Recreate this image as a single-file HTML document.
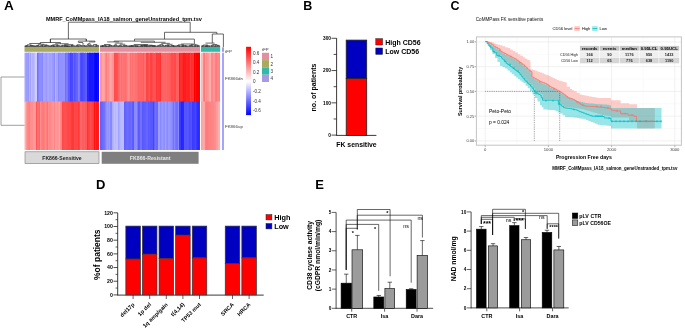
<!DOCTYPE html>
<html><head><meta charset="utf-8"><style>
html,body{margin:0;padding:0;background:#fff;}
svg{display:block;font-family:"Liberation Sans",sans-serif;will-change:transform;}
</style></head><body>
<svg width="685" height="328" viewBox="0 0 685 328">
<rect width="685" height="328" fill="#fff"/>
<text x="3.90" y="9.60" font-size="13.5" font-weight="bold" text-anchor="start" fill="#000" >A</text>
<text x="45.90" y="21.10" font-size="5.55" font-weight="bold" text-anchor="start" fill="#000" >MMRF_CoMMpass_IA18_salmon_geneUnstranded_tpm.tsv</text>
<rect x="24.50" y="52.70" width="2.20" height="49.50" fill="rgb(165,165,255)" />
<rect x="26.00" y="52.70" width="2.70" height="49.50" fill="rgb(156,156,255)" />
<rect x="28.00" y="52.70" width="1.70" height="49.50" fill="rgb(151,151,255)" />
<rect x="29.00" y="52.70" width="1.70" height="49.50" fill="rgb(180,180,255)" />
<rect x="30.00" y="52.70" width="1.70" height="49.50" fill="rgb(163,163,255)" />
<rect x="31.00" y="52.70" width="1.70" height="49.50" fill="rgb(190,190,255)" />
<rect x="32.00" y="52.70" width="2.70" height="49.50" fill="rgb(178,178,255)" />
<rect x="34.00" y="52.70" width="1.70" height="49.50" fill="rgb(188,188,255)" />
<rect x="35.00" y="52.70" width="2.70" height="49.50" fill="rgb(205,205,255)" />
<rect x="37.00" y="52.70" width="1.70" height="49.50" fill="rgb(114,114,255)" />
<rect x="38.00" y="52.70" width="1.70" height="49.50" fill="rgb(125,125,255)" />
<rect x="39.00" y="52.70" width="2.70" height="49.50" fill="rgb(141,141,255)" />
<rect x="41.00" y="52.70" width="1.70" height="49.50" fill="rgb(141,141,255)" />
<rect x="42.00" y="52.70" width="1.70" height="49.50" fill="rgb(134,134,255)" />
<rect x="43.00" y="52.70" width="1.70" height="49.50" fill="rgb(165,165,255)" />
<rect x="44.00" y="52.70" width="1.70" height="49.50" fill="rgb(164,164,255)" />
<rect x="45.00" y="52.70" width="1.70" height="49.50" fill="rgb(160,160,255)" />
<rect x="46.00" y="52.70" width="1.70" height="49.50" fill="rgb(152,152,255)" />
<rect x="47.00" y="52.70" width="1.70" height="49.50" fill="rgb(166,166,255)" />
<rect x="48.00" y="52.70" width="1.70" height="49.50" fill="rgb(168,168,255)" />
<rect x="49.00" y="52.70" width="2.70" height="49.50" fill="rgb(160,160,255)" />
<rect x="51.00" y="52.70" width="1.70" height="49.50" fill="rgb(166,166,255)" />
<rect x="52.00" y="52.70" width="2.70" height="49.50" fill="rgb(152,152,255)" />
<rect x="54.00" y="52.70" width="1.70" height="49.50" fill="rgb(139,139,255)" />
<rect x="55.00" y="52.70" width="1.70" height="49.50" fill="rgb(179,179,255)" />
<rect x="56.00" y="52.70" width="2.20" height="49.50" fill="rgb(165,165,255)" />
<rect x="57.50" y="52.70" width="1.20" height="49.50" fill="rgb(159,159,255)" />
<rect x="58.00" y="52.70" width="2.20" height="49.50" fill="rgb(137,137,255)" />
<rect x="59.50" y="52.70" width="1.20" height="49.50" fill="rgb(152,152,255)" />
<rect x="60.00" y="52.70" width="2.70" height="49.50" fill="rgb(145,145,255)" />
<rect x="62.00" y="52.70" width="1.70" height="49.50" fill="rgb(146,146,255)" />
<rect x="63.00" y="52.70" width="2.70" height="49.50" fill="rgb(148,148,255)" />
<rect x="65.00" y="52.70" width="1.70" height="49.50" fill="rgb(112,112,255)" />
<rect x="66.00" y="52.70" width="2.20" height="49.50" fill="rgb(125,125,255)" />
<rect x="67.50" y="52.70" width="1.20" height="49.50" fill="rgb(117,117,255)" />
<rect x="68.00" y="52.70" width="2.70" height="49.50" fill="rgb(92,92,255)" />
<rect x="70.00" y="52.70" width="1.70" height="49.50" fill="rgb(65,65,255)" />
<rect x="71.00" y="52.70" width="2.70" height="49.50" fill="rgb(73,73,255)" />
<rect x="73.00" y="52.70" width="1.70" height="49.50" fill="rgb(103,103,255)" />
<rect x="74.00" y="52.70" width="2.20" height="49.50" fill="rgb(85,85,255)" />
<rect x="75.50" y="52.70" width="1.20" height="49.50" fill="rgb(96,96,255)" />
<rect x="76.00" y="52.70" width="2.70" height="49.50" fill="rgb(100,100,255)" />
<rect x="78.00" y="52.70" width="2.20" height="49.50" fill="rgb(127,127,255)" />
<rect x="79.50" y="52.70" width="1.20" height="49.50" fill="rgb(117,117,255)" />
<rect x="80.00" y="52.70" width="1.70" height="49.50" fill="rgb(79,79,255)" />
<rect x="81.00" y="52.70" width="1.70" height="49.50" fill="rgb(71,71,255)" />
<rect x="82.00" y="52.70" width="1.70" height="49.50" fill="rgb(72,72,255)" />
<rect x="83.00" y="52.70" width="2.70" height="49.50" fill="rgb(82,82,255)" />
<rect x="85.00" y="52.70" width="2.70" height="49.50" fill="rgb(92,92,255)" />
<rect x="87.00" y="52.70" width="2.70" height="49.50" fill="rgb(36,36,255)" />
<rect x="89.00" y="52.70" width="2.20" height="49.50" fill="rgb(21,21,255)" />
<rect x="90.50" y="52.70" width="2.70" height="49.50" fill="rgb(22,22,255)" />
<rect x="92.50" y="52.70" width="2.20" height="49.50" fill="rgb(27,27,255)" />
<rect x="94.00" y="52.70" width="2.20" height="49.50" fill="rgb(10,10,255)" />
<rect x="95.50" y="52.70" width="2.20" height="49.50" fill="rgb(1,1,255)" />
<rect x="97.00" y="52.70" width="1.70" height="49.50" fill="rgb(13,13,255)" />
<rect x="98.00" y="52.70" width="1.00" height="49.50" fill="rgb(8,8,255)" />
<rect x="24.50" y="101.60" width="1.70" height="48.40" fill="rgb(255,181,181)" />
<rect x="25.50" y="101.60" width="1.20" height="48.40" fill="rgb(255,173,173)" />
<rect x="26.00" y="101.60" width="1.70" height="48.40" fill="rgb(255,151,151)" />
<rect x="27.00" y="101.60" width="2.20" height="48.40" fill="rgb(255,137,137)" />
<rect x="28.50" y="101.60" width="2.20" height="48.40" fill="rgb(255,126,126)" />
<rect x="30.00" y="101.60" width="1.70" height="48.40" fill="rgb(255,142,142)" />
<rect x="31.00" y="101.60" width="2.70" height="48.40" fill="rgb(255,143,143)" />
<rect x="33.00" y="101.60" width="2.70" height="48.40" fill="rgb(255,152,152)" />
<rect x="35.00" y="101.60" width="1.70" height="48.40" fill="rgb(255,154,154)" />
<rect x="36.00" y="101.60" width="1.70" height="48.40" fill="rgb(255,87,87)" />
<rect x="37.00" y="101.60" width="2.70" height="48.40" fill="rgb(255,112,112)" />
<rect x="39.00" y="101.60" width="1.70" height="48.40" fill="rgb(255,99,99)" />
<rect x="40.00" y="101.60" width="1.70" height="48.40" fill="rgb(255,143,143)" />
<rect x="41.00" y="101.60" width="1.70" height="48.40" fill="rgb(255,126,126)" />
<rect x="42.00" y="101.60" width="2.20" height="48.40" fill="rgb(255,124,124)" />
<rect x="43.50" y="101.60" width="1.70" height="48.40" fill="rgb(255,116,116)" />
<rect x="44.50" y="101.60" width="2.70" height="48.40" fill="rgb(255,138,138)" />
<rect x="46.50" y="101.60" width="2.20" height="48.40" fill="rgb(255,114,114)" />
<rect x="48.00" y="101.60" width="2.20" height="48.40" fill="rgb(255,141,141)" />
<rect x="49.50" y="101.60" width="1.70" height="48.40" fill="rgb(255,130,130)" />
<rect x="50.50" y="101.60" width="2.70" height="48.40" fill="rgb(255,141,141)" />
<rect x="52.50" y="101.60" width="2.20" height="48.40" fill="rgb(255,153,153)" />
<rect x="54.00" y="101.60" width="1.70" height="48.40" fill="rgb(255,133,133)" />
<rect x="55.00" y="101.60" width="2.20" height="48.40" fill="rgb(255,154,154)" />
<rect x="56.50" y="101.60" width="1.70" height="48.40" fill="rgb(255,153,153)" />
<rect x="57.50" y="101.60" width="1.70" height="48.40" fill="rgb(255,139,139)" />
<rect x="58.50" y="101.60" width="2.20" height="48.40" fill="rgb(255,164,164)" />
<rect x="60.00" y="101.60" width="1.70" height="48.40" fill="rgb(255,137,137)" />
<rect x="61.00" y="101.60" width="1.70" height="48.40" fill="rgb(255,131,131)" />
<rect x="62.00" y="101.60" width="1.70" height="48.40" fill="rgb(255,73,73)" />
<rect x="63.00" y="101.60" width="2.20" height="48.40" fill="rgb(255,78,78)" />
<rect x="64.50" y="101.60" width="1.70" height="48.40" fill="rgb(255,83,83)" />
<rect x="65.50" y="101.60" width="1.70" height="48.40" fill="rgb(255,78,78)" />
<rect x="66.50" y="101.60" width="2.20" height="48.40" fill="rgb(255,75,75)" />
<rect x="68.00" y="101.60" width="1.70" height="48.40" fill="rgb(255,70,70)" />
<rect x="69.00" y="101.60" width="2.70" height="48.40" fill="rgb(255,72,72)" />
<rect x="71.00" y="101.60" width="1.70" height="48.40" fill="rgb(255,60,60)" />
<rect x="72.00" y="101.60" width="1.70" height="48.40" fill="rgb(255,55,55)" />
<rect x="73.00" y="101.60" width="1.70" height="48.40" fill="rgb(255,56,56)" />
<rect x="74.00" y="101.60" width="2.20" height="48.40" fill="rgb(255,72,72)" />
<rect x="75.50" y="101.60" width="1.70" height="48.40" fill="rgb(255,66,66)" />
<rect x="76.50" y="101.60" width="2.20" height="48.40" fill="rgb(255,73,73)" />
<rect x="78.00" y="101.60" width="2.20" height="48.40" fill="rgb(255,57,57)" />
<rect x="79.50" y="101.60" width="1.20" height="48.40" fill="rgb(255,84,84)" />
<rect x="80.00" y="101.60" width="1.70" height="48.40" fill="rgb(255,105,105)" />
<rect x="81.00" y="101.60" width="1.70" height="48.40" fill="rgb(255,102,102)" />
<rect x="82.00" y="101.60" width="2.70" height="48.40" fill="rgb(255,93,93)" />
<rect x="84.00" y="101.60" width="1.70" height="48.40" fill="rgb(255,98,98)" />
<rect x="85.00" y="101.60" width="2.20" height="48.40" fill="rgb(255,88,88)" />
<rect x="86.50" y="101.60" width="1.20" height="48.40" fill="rgb(255,87,87)" />
<rect x="87.00" y="101.60" width="1.70" height="48.40" fill="rgb(255,51,51)" />
<rect x="88.00" y="101.60" width="1.70" height="48.40" fill="rgb(255,64,64)" />
<rect x="89.00" y="101.60" width="1.70" height="48.40" fill="rgb(255,66,66)" />
<rect x="90.00" y="101.60" width="2.20" height="48.40" fill="rgb(255,76,76)" />
<rect x="91.50" y="101.60" width="2.70" height="48.40" fill="rgb(255,65,65)" />
<rect x="93.50" y="101.60" width="1.20" height="48.40" fill="rgb(255,57,57)" />
<rect x="94.00" y="101.60" width="1.70" height="48.40" fill="rgb(255,18,18)" />
<rect x="95.00" y="101.60" width="1.70" height="48.40" fill="rgb(255,44,44)" />
<rect x="96.00" y="101.60" width="2.70" height="48.40" fill="rgb(255,24,24)" />
<rect x="98.00" y="101.60" width="1.00" height="48.40" fill="rgb(255,30,30)" />
<rect x="100.00" y="52.70" width="2.70" height="49.50" fill="rgb(255,148,148)" />
<rect x="102.00" y="52.70" width="2.20" height="49.50" fill="rgb(255,164,164)" />
<rect x="103.50" y="52.70" width="1.70" height="49.50" fill="rgb(255,168,168)" />
<rect x="104.50" y="52.70" width="1.20" height="49.50" fill="rgb(255,152,152)" />
<rect x="105.00" y="52.70" width="1.70" height="49.50" fill="rgb(255,137,137)" />
<rect x="106.00" y="52.70" width="1.70" height="49.50" fill="rgb(255,125,125)" />
<rect x="107.00" y="52.70" width="1.70" height="49.50" fill="rgb(255,150,150)" />
<rect x="108.00" y="52.70" width="1.70" height="49.50" fill="rgb(255,141,141)" />
<rect x="109.00" y="52.70" width="1.70" height="49.50" fill="rgb(255,153,153)" />
<rect x="110.00" y="52.70" width="2.20" height="49.50" fill="rgb(255,168,168)" />
<rect x="111.50" y="52.70" width="2.70" height="49.50" fill="rgb(255,150,150)" />
<rect x="113.50" y="52.70" width="1.20" height="49.50" fill="rgb(255,148,148)" />
<rect x="114.00" y="52.70" width="2.20" height="49.50" fill="rgb(255,77,77)" />
<rect x="115.50" y="52.70" width="2.70" height="49.50" fill="rgb(255,79,79)" />
<rect x="117.50" y="52.70" width="1.20" height="49.50" fill="rgb(255,88,88)" />
<rect x="118.00" y="52.70" width="1.70" height="49.50" fill="rgb(255,101,101)" />
<rect x="119.00" y="52.70" width="1.70" height="49.50" fill="rgb(255,109,109)" />
<rect x="120.00" y="52.70" width="1.70" height="49.50" fill="rgb(255,122,122)" />
<rect x="121.00" y="52.70" width="1.70" height="49.50" fill="rgb(255,109,109)" />
<rect x="122.00" y="52.70" width="1.70" height="49.50" fill="rgb(255,118,118)" />
<rect x="123.00" y="52.70" width="2.20" height="49.50" fill="rgb(255,114,114)" />
<rect x="124.50" y="52.70" width="2.20" height="49.50" fill="rgb(255,111,111)" />
<rect x="126.00" y="52.70" width="1.70" height="49.50" fill="rgb(255,116,116)" />
<rect x="127.00" y="52.70" width="1.70" height="49.50" fill="rgb(255,135,135)" />
<rect x="128.00" y="52.70" width="2.20" height="49.50" fill="rgb(255,142,142)" />
<rect x="129.50" y="52.70" width="1.20" height="49.50" fill="rgb(255,127,127)" />
<rect x="130.00" y="52.70" width="1.70" height="49.50" fill="rgb(255,112,112)" />
<rect x="131.00" y="52.70" width="1.70" height="49.50" fill="rgb(255,122,122)" />
<rect x="132.00" y="52.70" width="1.70" height="49.50" fill="rgb(255,114,114)" />
<rect x="133.00" y="52.70" width="2.70" height="49.50" fill="rgb(255,120,120)" />
<rect x="135.00" y="52.70" width="2.70" height="49.50" fill="rgb(255,112,112)" />
<rect x="137.00" y="52.70" width="1.70" height="49.50" fill="rgb(255,106,106)" />
<rect x="138.00" y="52.70" width="2.20" height="49.50" fill="rgb(255,99,99)" />
<rect x="139.50" y="52.70" width="1.20" height="49.50" fill="rgb(255,102,102)" />
<rect x="140.00" y="52.70" width="1.70" height="49.50" fill="rgb(255,99,99)" />
<rect x="141.00" y="52.70" width="2.70" height="49.50" fill="rgb(255,99,99)" />
<rect x="143.00" y="52.70" width="1.70" height="49.50" fill="rgb(255,92,92)" />
<rect x="144.00" y="52.70" width="2.70" height="49.50" fill="rgb(255,110,110)" />
<rect x="146.00" y="52.70" width="2.20" height="49.50" fill="rgb(255,70,70)" />
<rect x="147.50" y="52.70" width="1.70" height="49.50" fill="rgb(255,66,66)" />
<rect x="148.50" y="52.70" width="2.20" height="49.50" fill="rgb(255,90,90)" />
<rect x="150.00" y="52.70" width="1.70" height="49.50" fill="rgb(255,65,65)" />
<rect x="151.00" y="52.70" width="1.70" height="49.50" fill="rgb(255,64,64)" />
<rect x="152.00" y="52.70" width="1.70" height="49.50" fill="rgb(255,75,75)" />
<rect x="153.00" y="52.70" width="2.70" height="49.50" fill="rgb(255,82,82)" />
<rect x="155.00" y="52.70" width="1.70" height="49.50" fill="rgb(255,82,82)" />
<rect x="156.00" y="52.70" width="1.70" height="49.50" fill="rgb(255,56,56)" />
<rect x="157.00" y="52.70" width="2.70" height="49.50" fill="rgb(255,61,61)" />
<rect x="159.00" y="52.70" width="1.70" height="49.50" fill="rgb(255,60,60)" />
<rect x="160.00" y="52.70" width="1.70" height="49.50" fill="rgb(255,49,49)" />
<rect x="161.00" y="52.70" width="1.70" height="49.50" fill="rgb(255,102,102)" />
<rect x="162.00" y="52.70" width="2.70" height="49.50" fill="rgb(255,99,99)" />
<rect x="164.00" y="52.70" width="1.70" height="49.50" fill="rgb(255,100,100)" />
<rect x="165.00" y="52.70" width="2.20" height="49.50" fill="rgb(255,97,97)" />
<rect x="166.50" y="52.70" width="1.70" height="49.50" fill="rgb(255,109,109)" />
<rect x="167.50" y="52.70" width="1.70" height="49.50" fill="rgb(255,82,82)" />
<rect x="168.50" y="52.70" width="1.20" height="49.50" fill="rgb(255,110,110)" />
<rect x="169.00" y="52.70" width="2.20" height="49.50" fill="rgb(255,93,93)" />
<rect x="170.50" y="52.70" width="1.70" height="49.50" fill="rgb(255,86,86)" />
<rect x="171.50" y="52.70" width="1.70" height="49.50" fill="rgb(255,69,69)" />
<rect x="172.50" y="52.70" width="2.20" height="49.50" fill="rgb(255,82,82)" />
<rect x="174.00" y="52.70" width="2.70" height="49.50" fill="rgb(255,73,73)" />
<rect x="176.00" y="52.70" width="1.70" height="49.50" fill="rgb(255,96,96)" />
<rect x="177.00" y="52.70" width="1.70" height="49.50" fill="rgb(255,92,92)" />
<rect x="178.00" y="52.70" width="1.70" height="49.50" fill="rgb(255,96,96)" />
<rect x="179.00" y="52.70" width="1.70" height="49.50" fill="rgb(255,29,29)" />
<rect x="180.00" y="52.70" width="2.20" height="49.50" fill="rgb(255,46,46)" />
<rect x="181.50" y="52.70" width="1.70" height="49.50" fill="rgb(255,46,46)" />
<rect x="182.50" y="52.70" width="1.70" height="49.50" fill="rgb(255,35,35)" />
<rect x="183.50" y="52.70" width="1.20" height="49.50" fill="rgb(255,18,18)" />
<rect x="184.00" y="52.70" width="2.70" height="49.50" fill="rgb(255,28,28)" />
<rect x="186.00" y="52.70" width="2.20" height="49.50" fill="rgb(255,37,37)" />
<rect x="187.50" y="52.70" width="1.70" height="49.50" fill="rgb(255,40,40)" />
<rect x="188.50" y="52.70" width="1.70" height="49.50" fill="rgb(255,27,27)" />
<rect x="189.50" y="52.70" width="1.20" height="49.50" fill="rgb(255,48,48)" />
<rect x="190.00" y="52.70" width="1.70" height="49.50" fill="rgb(255,58,58)" />
<rect x="191.00" y="52.70" width="2.20" height="49.50" fill="rgb(255,45,45)" />
<rect x="192.50" y="52.70" width="1.70" height="49.50" fill="rgb(255,55,55)" />
<rect x="193.50" y="52.70" width="1.20" height="49.50" fill="rgb(255,55,55)" />
<rect x="194.00" y="52.70" width="1.70" height="49.50" fill="rgb(255,0,0)" />
<rect x="195.00" y="52.70" width="1.70" height="49.50" fill="rgb(255,15,15)" />
<rect x="196.00" y="52.70" width="1.70" height="49.50" fill="rgb(255,0,0)" />
<rect x="197.00" y="52.70" width="1.70" height="49.50" fill="rgb(255,0,0)" />
<rect x="198.00" y="52.70" width="1.70" height="49.50" fill="rgb(255,0,0)" />
<rect x="199.00" y="52.70" width="1.00" height="49.50" fill="rgb(255,0,0)" />
<rect x="100.00" y="101.60" width="2.70" height="48.40" fill="rgb(98,98,255)" />
<rect x="102.00" y="101.60" width="2.20" height="48.40" fill="rgb(106,106,255)" />
<rect x="103.50" y="101.60" width="1.70" height="48.40" fill="rgb(117,117,255)" />
<rect x="104.50" y="101.60" width="1.20" height="48.40" fill="rgb(115,115,255)" />
<rect x="105.00" y="101.60" width="2.20" height="48.40" fill="rgb(131,131,255)" />
<rect x="106.50" y="101.60" width="1.70" height="48.40" fill="rgb(160,160,255)" />
<rect x="107.50" y="101.60" width="2.20" height="48.40" fill="rgb(147,147,255)" />
<rect x="109.00" y="101.60" width="1.70" height="48.40" fill="rgb(158,158,255)" />
<rect x="110.00" y="101.60" width="2.70" height="48.40" fill="rgb(134,134,255)" />
<rect x="112.00" y="101.60" width="2.20" height="48.40" fill="rgb(173,173,255)" />
<rect x="113.50" y="101.60" width="2.20" height="48.40" fill="rgb(190,190,255)" />
<rect x="115.00" y="101.60" width="1.70" height="48.40" fill="rgb(186,186,255)" />
<rect x="116.00" y="101.60" width="2.70" height="48.40" fill="rgb(191,191,255)" />
<rect x="118.00" y="101.60" width="2.20" height="48.40" fill="rgb(162,162,255)" />
<rect x="119.50" y="101.60" width="2.20" height="48.40" fill="rgb(184,184,255)" />
<rect x="121.00" y="101.60" width="2.20" height="48.40" fill="rgb(185,185,255)" />
<rect x="122.50" y="101.60" width="1.70" height="48.40" fill="rgb(191,191,255)" />
<rect x="123.50" y="101.60" width="1.20" height="48.40" fill="rgb(189,189,255)" />
<rect x="124.00" y="101.60" width="2.20" height="48.40" fill="rgb(97,97,255)" />
<rect x="125.50" y="101.60" width="1.70" height="48.40" fill="rgb(105,105,255)" />
<rect x="126.50" y="101.60" width="1.70" height="48.40" fill="rgb(109,109,255)" />
<rect x="127.50" y="101.60" width="1.70" height="48.40" fill="rgb(108,108,255)" />
<rect x="128.50" y="101.60" width="1.70" height="48.40" fill="rgb(100,100,255)" />
<rect x="129.50" y="101.60" width="2.20" height="48.40" fill="rgb(103,103,255)" />
<rect x="131.00" y="101.60" width="1.70" height="48.40" fill="rgb(110,110,255)" />
<rect x="132.00" y="101.60" width="1.70" height="48.40" fill="rgb(92,92,255)" />
<rect x="133.00" y="101.60" width="1.70" height="48.40" fill="rgb(89,89,255)" />
<rect x="134.00" y="101.60" width="2.70" height="48.40" fill="rgb(138,138,255)" />
<rect x="136.00" y="101.60" width="1.70" height="48.40" fill="rgb(141,141,255)" />
<rect x="137.00" y="101.60" width="1.70" height="48.40" fill="rgb(120,120,255)" />
<rect x="138.00" y="101.60" width="1.70" height="48.40" fill="rgb(89,89,255)" />
<rect x="139.00" y="101.60" width="1.70" height="48.40" fill="rgb(92,92,255)" />
<rect x="140.00" y="101.60" width="1.70" height="48.40" fill="rgb(115,115,255)" />
<rect x="141.00" y="101.60" width="1.70" height="48.40" fill="rgb(113,113,255)" />
<rect x="142.00" y="101.60" width="2.20" height="48.40" fill="rgb(88,88,255)" />
<rect x="143.50" y="101.60" width="2.70" height="48.40" fill="rgb(92,92,255)" />
<rect x="145.50" y="101.60" width="1.70" height="48.40" fill="rgb(98,98,255)" />
<rect x="146.50" y="101.60" width="1.70" height="48.40" fill="rgb(102,102,255)" />
<rect x="147.50" y="101.60" width="1.20" height="48.40" fill="rgb(103,103,255)" />
<rect x="148.00" y="101.60" width="1.70" height="48.40" fill="rgb(89,89,255)" />
<rect x="149.00" y="101.60" width="1.70" height="48.40" fill="rgb(92,92,255)" />
<rect x="150.00" y="101.60" width="1.70" height="48.40" fill="rgb(89,89,255)" />
<rect x="151.00" y="101.60" width="2.70" height="48.40" fill="rgb(87,87,255)" />
<rect x="153.00" y="101.60" width="1.70" height="48.40" fill="rgb(68,68,255)" />
<rect x="154.00" y="101.60" width="1.70" height="48.40" fill="rgb(98,98,255)" />
<rect x="155.00" y="101.60" width="1.70" height="48.40" fill="rgb(113,113,255)" />
<rect x="156.00" y="101.60" width="2.70" height="48.40" fill="rgb(105,105,255)" />
<rect x="158.00" y="101.60" width="2.70" height="48.40" fill="rgb(158,158,255)" />
<rect x="160.00" y="101.60" width="2.20" height="48.40" fill="rgb(137,137,255)" />
<rect x="161.50" y="101.60" width="1.70" height="48.40" fill="rgb(158,158,255)" />
<rect x="162.50" y="101.60" width="1.70" height="48.40" fill="rgb(150,150,255)" />
<rect x="163.50" y="101.60" width="2.20" height="48.40" fill="rgb(142,142,255)" />
<rect x="165.00" y="101.60" width="1.70" height="48.40" fill="rgb(160,160,255)" />
<rect x="166.00" y="101.60" width="1.70" height="48.40" fill="rgb(146,146,255)" />
<rect x="167.00" y="101.60" width="1.70" height="48.40" fill="rgb(139,139,255)" />
<rect x="168.00" y="101.60" width="2.70" height="48.40" fill="rgb(152,152,255)" />
<rect x="170.00" y="101.60" width="2.20" height="48.40" fill="rgb(146,146,255)" />
<rect x="171.50" y="101.60" width="1.20" height="48.40" fill="rgb(137,137,255)" />
<rect x="172.00" y="101.60" width="1.70" height="48.40" fill="rgb(133,133,255)" />
<rect x="173.00" y="101.60" width="1.70" height="48.40" fill="rgb(114,114,255)" />
<rect x="174.00" y="101.60" width="1.70" height="48.40" fill="rgb(134,134,255)" />
<rect x="175.00" y="101.60" width="1.70" height="48.40" fill="rgb(118,118,255)" />
<rect x="176.00" y="101.60" width="2.70" height="48.40" fill="rgb(112,112,255)" />
<rect x="178.00" y="101.60" width="1.70" height="48.40" fill="rgb(136,136,255)" />
<rect x="179.00" y="101.60" width="1.70" height="48.40" fill="rgb(61,61,255)" />
<rect x="180.00" y="101.60" width="1.70" height="48.40" fill="rgb(59,59,255)" />
<rect x="181.00" y="101.60" width="2.20" height="48.40" fill="rgb(35,35,255)" />
<rect x="182.50" y="101.60" width="1.70" height="48.40" fill="rgb(45,45,255)" />
<rect x="183.50" y="101.60" width="1.20" height="48.40" fill="rgb(37,37,255)" />
<rect x="184.00" y="101.60" width="2.20" height="48.40" fill="rgb(87,87,255)" />
<rect x="185.50" y="101.60" width="2.70" height="48.40" fill="rgb(82,82,255)" />
<rect x="187.50" y="101.60" width="1.70" height="48.40" fill="rgb(94,94,255)" />
<rect x="188.50" y="101.60" width="2.70" height="48.40" fill="rgb(73,73,255)" />
<rect x="190.50" y="101.60" width="2.20" height="48.40" fill="rgb(85,85,255)" />
<rect x="192.00" y="101.60" width="1.70" height="48.40" fill="rgb(59,59,255)" />
<rect x="193.00" y="101.60" width="2.70" height="48.40" fill="rgb(62,62,255)" />
<rect x="195.00" y="101.60" width="2.20" height="48.40" fill="rgb(71,71,255)" />
<rect x="196.50" y="101.60" width="2.20" height="48.40" fill="rgb(46,46,255)" />
<rect x="198.00" y="101.60" width="1.70" height="48.40" fill="rgb(43,43,255)" />
<rect x="199.00" y="101.60" width="1.00" height="48.40" fill="rgb(50,50,255)" />
<rect x="201.00" y="52.70" width="2.20" height="49.50" fill="rgb(255,184,184)" />
<rect x="202.50" y="52.70" width="1.20" height="49.50" fill="rgb(255,179,179)" />
<rect x="203.00" y="52.70" width="1.70" height="49.50" fill="rgb(255,132,132)" />
<rect x="204.00" y="52.70" width="1.70" height="49.50" fill="rgb(255,120,120)" />
<rect x="205.00" y="52.70" width="1.70" height="49.50" fill="rgb(255,160,160)" />
<rect x="206.00" y="52.70" width="1.70" height="49.50" fill="rgb(255,143,143)" />
<rect x="207.00" y="52.70" width="2.20" height="49.50" fill="rgb(255,149,149)" />
<rect x="208.50" y="52.70" width="1.20" height="49.50" fill="rgb(255,161,161)" />
<rect x="209.00" y="52.70" width="2.20" height="49.50" fill="rgb(255,170,170)" />
<rect x="210.50" y="52.70" width="1.20" height="49.50" fill="rgb(255,178,178)" />
<rect x="211.00" y="52.70" width="2.20" height="49.50" fill="rgb(255,137,137)" />
<rect x="212.50" y="52.70" width="1.20" height="49.50" fill="rgb(255,134,134)" />
<rect x="213.00" y="52.70" width="2.70" height="49.50" fill="rgb(255,148,148)" />
<rect x="215.00" y="52.70" width="1.70" height="49.50" fill="rgb(255,128,128)" />
<rect x="216.00" y="52.70" width="1.70" height="49.50" fill="rgb(255,122,122)" />
<rect x="217.00" y="52.70" width="2.70" height="49.50" fill="rgb(255,137,137)" />
<rect x="219.00" y="52.70" width="1.00" height="49.50" fill="rgb(255,131,131)" />
<rect x="201.00" y="101.60" width="2.20" height="48.40" fill="rgb(255,161,161)" />
<rect x="202.50" y="101.60" width="1.70" height="48.40" fill="rgb(255,171,171)" />
<rect x="203.50" y="101.60" width="2.20" height="48.40" fill="rgb(255,165,165)" />
<rect x="205.00" y="101.60" width="2.20" height="48.40" fill="rgb(255,127,127)" />
<rect x="206.50" y="101.60" width="2.20" height="48.40" fill="rgb(255,123,123)" />
<rect x="208.00" y="101.60" width="1.70" height="48.40" fill="rgb(255,126,126)" />
<rect x="209.00" y="101.60" width="2.70" height="48.40" fill="rgb(255,131,131)" />
<rect x="211.00" y="101.60" width="1.70" height="48.40" fill="rgb(255,133,133)" />
<rect x="212.00" y="101.60" width="2.70" height="48.40" fill="rgb(255,134,134)" />
<rect x="214.00" y="101.60" width="2.70" height="48.40" fill="rgb(255,141,141)" />
<rect x="216.00" y="101.60" width="2.70" height="48.40" fill="rgb(255,155,155)" />
<rect x="218.00" y="101.60" width="1.70" height="48.40" fill="rgb(255,176,176)" />
<rect x="219.00" y="101.60" width="1.00" height="48.40" fill="rgb(255,173,173)" />
<rect x="222.00" y="52.70" width="2.00" height="97.30" fill="rgb(165,165,255)" />
<rect x="24.50" y="47.00" width="74.50" height="4.80" fill="#a9a95f" />
<rect x="100.00" y="47.00" width="100.00" height="4.80" fill="#e0909e" />
<rect x="201.00" y="47.00" width="19.20" height="4.80" fill="#36b8a8" />
<rect x="222.00" y="47.30" width="2.00" height="4.50" fill="#a79ae0" />
<polyline points="24.50,77.00 1.00,77.00 1.00,125.30 24.50,125.30" fill="none" stroke="#888" stroke-width="0.8" />
<line x1="68.40" y1="22.20" x2="190.20" y2="22.20" stroke="#2a2a2a" stroke-width="0.7" />
<line x1="68.40" y1="22.20" x2="68.40" y2="39.00" stroke="#2a2a2a" stroke-width="0.7" />
<line x1="50.40" y1="39.00" x2="86.30" y2="39.00" stroke="#2a2a2a" stroke-width="0.7" />
<line x1="50.40" y1="39.00" x2="50.40" y2="42.70" stroke="#2a2a2a" stroke-width="0.7" />
<line x1="86.30" y1="39.00" x2="86.30" y2="41.10" stroke="#2a2a2a" stroke-width="0.7" />
<line x1="190.20" y1="22.20" x2="190.20" y2="32.30" stroke="#2a2a2a" stroke-width="0.7" />
<line x1="164.50" y1="32.30" x2="216.80" y2="32.30" stroke="#2a2a2a" stroke-width="0.7" />
<line x1="164.50" y1="32.30" x2="164.50" y2="39.10" stroke="#2a2a2a" stroke-width="0.7" />
<line x1="134.50" y1="39.10" x2="194.40" y2="39.10" stroke="#2a2a2a" stroke-width="0.7" />
<line x1="216.80" y1="32.30" x2="216.80" y2="34.00" stroke="#2a2a2a" stroke-width="0.7" />
<line x1="212.30" y1="34.00" x2="223.40" y2="34.00" stroke="#2a2a2a" stroke-width="0.7" />
<line x1="223.40" y1="34.00" x2="223.40" y2="47.00" stroke="#2a2a2a" stroke-width="0.7" />
<line x1="50.40" y1="39.00" x2="50.40" y2="42.50" stroke="#2a2a2a" stroke-width="0.7" />
<line x1="40.30" y1="42.50" x2="60.50" y2="42.50" stroke="#2a2a2a" stroke-width="0.7" />
<line x1="24.93" y1="46.10" x2="24.93" y2="46.50" stroke="#2a2a2a" stroke-width="0.7" />
<line x1="25.59" y1="46.10" x2="25.59" y2="46.50" stroke="#2a2a2a" stroke-width="0.7" />
<line x1="24.93" y1="46.10" x2="25.59" y2="46.10" stroke="#2a2a2a" stroke-width="0.7" />
<line x1="26.23" y1="46.10" x2="26.23" y2="46.50" stroke="#2a2a2a" stroke-width="0.7" />
<line x1="26.98" y1="46.10" x2="26.98" y2="46.50" stroke="#2a2a2a" stroke-width="0.7" />
<line x1="26.23" y1="46.10" x2="26.98" y2="46.10" stroke="#2a2a2a" stroke-width="0.7" />
<line x1="25.26" y1="46.01" x2="26.61" y2="46.01" stroke="#2a2a2a" stroke-width="0.7" />
<line x1="27.71" y1="46.10" x2="27.71" y2="46.50" stroke="#2a2a2a" stroke-width="0.7" />
<line x1="28.45" y1="46.10" x2="28.45" y2="46.50" stroke="#2a2a2a" stroke-width="0.7" />
<line x1="27.71" y1="46.10" x2="28.45" y2="46.10" stroke="#2a2a2a" stroke-width="0.7" />
<line x1="25.93" y1="45.69" x2="28.08" y2="45.69" stroke="#2a2a2a" stroke-width="0.7" />
<line x1="29.50" y1="46.07" x2="29.50" y2="46.50" stroke="#2a2a2a" stroke-width="0.7" />
<line x1="30.61" y1="46.07" x2="30.61" y2="46.50" stroke="#2a2a2a" stroke-width="0.7" />
<line x1="29.50" y1="46.07" x2="30.61" y2="46.07" stroke="#2a2a2a" stroke-width="0.7" />
<line x1="31.42" y1="46.10" x2="31.42" y2="46.50" stroke="#2a2a2a" stroke-width="0.7" />
<line x1="32.22" y1="46.10" x2="32.22" y2="46.50" stroke="#2a2a2a" stroke-width="0.7" />
<line x1="31.42" y1="46.10" x2="32.22" y2="46.10" stroke="#2a2a2a" stroke-width="0.7" />
<line x1="33.30" y1="46.10" x2="33.30" y2="46.50" stroke="#2a2a2a" stroke-width="0.7" />
<line x1="34.33" y1="46.10" x2="34.33" y2="46.50" stroke="#2a2a2a" stroke-width="0.7" />
<line x1="34.99" y1="46.10" x2="34.99" y2="46.50" stroke="#2a2a2a" stroke-width="0.7" />
<line x1="34.33" y1="46.10" x2="34.99" y2="46.10" stroke="#2a2a2a" stroke-width="0.7" />
<line x1="33.30" y1="46.10" x2="34.66" y2="46.10" stroke="#2a2a2a" stroke-width="0.7" />
<line x1="31.82" y1="45.88" x2="33.98" y2="45.88" stroke="#2a2a2a" stroke-width="0.7" />
<line x1="30.05" y1="45.55" x2="32.90" y2="45.55" stroke="#2a2a2a" stroke-width="0.7" />
<line x1="27.01" y1="44.84" x2="31.48" y2="44.84" stroke="#2a2a2a" stroke-width="0.7" />
<line x1="35.42" y1="46.10" x2="35.42" y2="46.50" stroke="#2a2a2a" stroke-width="0.7" />
<line x1="36.07" y1="46.10" x2="36.07" y2="46.50" stroke="#2a2a2a" stroke-width="0.7" />
<line x1="35.42" y1="46.10" x2="36.07" y2="46.10" stroke="#2a2a2a" stroke-width="0.7" />
<line x1="36.98" y1="46.10" x2="36.98" y2="46.50" stroke="#2a2a2a" stroke-width="0.7" />
<line x1="37.66" y1="46.10" x2="37.66" y2="46.50" stroke="#2a2a2a" stroke-width="0.7" />
<line x1="36.98" y1="46.10" x2="37.66" y2="46.10" stroke="#2a2a2a" stroke-width="0.7" />
<line x1="35.74" y1="45.97" x2="37.32" y2="45.97" stroke="#2a2a2a" stroke-width="0.7" />
<line x1="38.50" y1="46.10" x2="38.50" y2="46.50" stroke="#2a2a2a" stroke-width="0.7" />
<line x1="39.45" y1="46.10" x2="39.45" y2="46.50" stroke="#2a2a2a" stroke-width="0.7" />
<line x1="38.50" y1="46.10" x2="39.45" y2="46.10" stroke="#2a2a2a" stroke-width="0.7" />
<line x1="36.53" y1="45.53" x2="38.97" y2="45.53" stroke="#2a2a2a" stroke-width="0.7" />
<line x1="40.21" y1="46.10" x2="40.21" y2="46.50" stroke="#2a2a2a" stroke-width="0.7" />
<line x1="40.95" y1="46.10" x2="40.95" y2="46.50" stroke="#2a2a2a" stroke-width="0.7" />
<line x1="40.21" y1="46.10" x2="40.95" y2="46.10" stroke="#2a2a2a" stroke-width="0.7" />
<line x1="41.73" y1="46.10" x2="41.73" y2="46.50" stroke="#2a2a2a" stroke-width="0.7" />
<line x1="42.49" y1="46.10" x2="42.49" y2="46.50" stroke="#2a2a2a" stroke-width="0.7" />
<line x1="41.73" y1="46.10" x2="42.49" y2="46.10" stroke="#2a2a2a" stroke-width="0.7" />
<line x1="43.33" y1="46.03" x2="43.33" y2="46.50" stroke="#2a2a2a" stroke-width="0.7" />
<line x1="42.11" y1="46.03" x2="43.33" y2="46.03" stroke="#2a2a2a" stroke-width="0.7" />
<line x1="40.58" y1="45.60" x2="42.72" y2="45.60" stroke="#2a2a2a" stroke-width="0.7" />
<line x1="44.14" y1="46.10" x2="44.14" y2="46.50" stroke="#2a2a2a" stroke-width="0.7" />
<line x1="44.79" y1="46.10" x2="44.79" y2="46.50" stroke="#2a2a2a" stroke-width="0.7" />
<line x1="44.14" y1="46.10" x2="44.79" y2="46.10" stroke="#2a2a2a" stroke-width="0.7" />
<line x1="45.50" y1="46.09" x2="45.50" y2="46.50" stroke="#2a2a2a" stroke-width="0.7" />
<line x1="44.47" y1="46.09" x2="45.50" y2="46.09" stroke="#2a2a2a" stroke-width="0.7" />
<line x1="46.44" y1="45.72" x2="46.44" y2="46.50" stroke="#2a2a2a" stroke-width="0.7" />
<line x1="44.98" y1="45.72" x2="46.44" y2="45.72" stroke="#2a2a2a" stroke-width="0.7" />
<line x1="47.65" y1="45.89" x2="47.65" y2="46.50" stroke="#2a2a2a" stroke-width="0.7" />
<line x1="48.75" y1="46.06" x2="48.75" y2="46.50" stroke="#2a2a2a" stroke-width="0.7" />
<line x1="49.63" y1="46.06" x2="49.63" y2="46.50" stroke="#2a2a2a" stroke-width="0.7" />
<line x1="48.75" y1="46.06" x2="49.63" y2="46.06" stroke="#2a2a2a" stroke-width="0.7" />
<line x1="47.65" y1="45.89" x2="49.19" y2="45.89" stroke="#2a2a2a" stroke-width="0.7" />
<line x1="45.71" y1="45.34" x2="48.42" y2="45.34" stroke="#2a2a2a" stroke-width="0.7" />
<line x1="41.65" y1="44.92" x2="47.06" y2="44.92" stroke="#2a2a2a" stroke-width="0.7" />
<line x1="37.75" y1="44.28" x2="44.36" y2="44.28" stroke="#2a2a2a" stroke-width="0.7" />
<line x1="29.24" y1="43.49" x2="41.05" y2="43.49" stroke="#2a2a2a" stroke-width="0.7" />
<line x1="40.30" y1="42.50" x2="40.30" y2="43.49" stroke="#2a2a2a" stroke-width="0.7" />
<line x1="50.33" y1="45.91" x2="50.33" y2="46.50" stroke="#2a2a2a" stroke-width="0.7" />
<line x1="51.02" y1="46.10" x2="51.02" y2="46.50" stroke="#2a2a2a" stroke-width="0.7" />
<line x1="51.76" y1="46.10" x2="51.76" y2="46.50" stroke="#2a2a2a" stroke-width="0.7" />
<line x1="51.02" y1="46.10" x2="51.76" y2="46.10" stroke="#2a2a2a" stroke-width="0.7" />
<line x1="50.33" y1="45.91" x2="51.39" y2="45.91" stroke="#2a2a2a" stroke-width="0.7" />
<line x1="52.61" y1="46.10" x2="52.61" y2="46.50" stroke="#2a2a2a" stroke-width="0.7" />
<line x1="53.55" y1="46.10" x2="53.55" y2="46.50" stroke="#2a2a2a" stroke-width="0.7" />
<line x1="52.61" y1="46.10" x2="53.55" y2="46.10" stroke="#2a2a2a" stroke-width="0.7" />
<line x1="54.33" y1="46.10" x2="54.33" y2="46.50" stroke="#2a2a2a" stroke-width="0.7" />
<line x1="55.07" y1="46.10" x2="55.07" y2="46.50" stroke="#2a2a2a" stroke-width="0.7" />
<line x1="54.33" y1="46.10" x2="55.07" y2="46.10" stroke="#2a2a2a" stroke-width="0.7" />
<line x1="53.08" y1="46.09" x2="54.70" y2="46.09" stroke="#2a2a2a" stroke-width="0.7" />
<line x1="50.86" y1="45.58" x2="53.89" y2="45.58" stroke="#2a2a2a" stroke-width="0.7" />
<line x1="55.95" y1="45.87" x2="55.95" y2="46.50" stroke="#2a2a2a" stroke-width="0.7" />
<line x1="56.94" y1="46.10" x2="56.94" y2="46.50" stroke="#2a2a2a" stroke-width="0.7" />
<line x1="57.91" y1="46.10" x2="57.91" y2="46.50" stroke="#2a2a2a" stroke-width="0.7" />
<line x1="56.94" y1="46.10" x2="57.91" y2="46.10" stroke="#2a2a2a" stroke-width="0.7" />
<line x1="55.95" y1="45.87" x2="57.43" y2="45.87" stroke="#2a2a2a" stroke-width="0.7" />
<line x1="58.74" y1="45.93" x2="58.74" y2="46.50" stroke="#2a2a2a" stroke-width="0.7" />
<line x1="59.75" y1="45.93" x2="59.75" y2="46.50" stroke="#2a2a2a" stroke-width="0.7" />
<line x1="58.74" y1="45.93" x2="59.75" y2="45.93" stroke="#2a2a2a" stroke-width="0.7" />
<line x1="56.69" y1="45.40" x2="59.24" y2="45.40" stroke="#2a2a2a" stroke-width="0.7" />
<line x1="52.37" y1="44.79" x2="57.97" y2="44.79" stroke="#2a2a2a" stroke-width="0.7" />
<line x1="60.63" y1="46.10" x2="60.63" y2="46.50" stroke="#2a2a2a" stroke-width="0.7" />
<line x1="61.35" y1="46.10" x2="61.35" y2="46.50" stroke="#2a2a2a" stroke-width="0.7" />
<line x1="60.63" y1="46.10" x2="61.35" y2="46.10" stroke="#2a2a2a" stroke-width="0.7" />
<line x1="62.28" y1="46.10" x2="62.28" y2="46.50" stroke="#2a2a2a" stroke-width="0.7" />
<line x1="63.10" y1="46.10" x2="63.10" y2="46.50" stroke="#2a2a2a" stroke-width="0.7" />
<line x1="62.28" y1="46.10" x2="63.10" y2="46.10" stroke="#2a2a2a" stroke-width="0.7" />
<line x1="60.99" y1="45.90" x2="62.69" y2="45.90" stroke="#2a2a2a" stroke-width="0.7" />
<line x1="63.98" y1="46.10" x2="63.98" y2="46.50" stroke="#2a2a2a" stroke-width="0.7" />
<line x1="64.81" y1="46.10" x2="64.81" y2="46.50" stroke="#2a2a2a" stroke-width="0.7" />
<line x1="65.55" y1="46.10" x2="65.55" y2="46.50" stroke="#2a2a2a" stroke-width="0.7" />
<line x1="64.81" y1="46.10" x2="65.55" y2="46.10" stroke="#2a2a2a" stroke-width="0.7" />
<line x1="63.98" y1="46.10" x2="65.18" y2="46.10" stroke="#2a2a2a" stroke-width="0.7" />
<line x1="66.33" y1="46.10" x2="66.33" y2="46.50" stroke="#2a2a2a" stroke-width="0.7" />
<line x1="67.18" y1="46.10" x2="67.18" y2="46.50" stroke="#2a2a2a" stroke-width="0.7" />
<line x1="66.33" y1="46.10" x2="67.18" y2="46.10" stroke="#2a2a2a" stroke-width="0.7" />
<line x1="68.12" y1="46.10" x2="68.12" y2="46.50" stroke="#2a2a2a" stroke-width="0.7" />
<line x1="66.75" y1="46.10" x2="68.12" y2="46.10" stroke="#2a2a2a" stroke-width="0.7" />
<line x1="68.90" y1="46.10" x2="68.90" y2="46.50" stroke="#2a2a2a" stroke-width="0.7" />
<line x1="69.73" y1="46.10" x2="69.73" y2="46.50" stroke="#2a2a2a" stroke-width="0.7" />
<line x1="68.90" y1="46.10" x2="69.73" y2="46.10" stroke="#2a2a2a" stroke-width="0.7" />
<line x1="67.44" y1="46.10" x2="69.32" y2="46.10" stroke="#2a2a2a" stroke-width="0.7" />
<line x1="64.58" y1="46.02" x2="68.38" y2="46.02" stroke="#2a2a2a" stroke-width="0.7" />
<line x1="61.84" y1="45.32" x2="66.48" y2="45.32" stroke="#2a2a2a" stroke-width="0.7" />
<line x1="70.68" y1="45.88" x2="70.68" y2="46.50" stroke="#2a2a2a" stroke-width="0.7" />
<line x1="71.44" y1="45.88" x2="71.44" y2="46.50" stroke="#2a2a2a" stroke-width="0.7" />
<line x1="70.68" y1="45.88" x2="71.44" y2="45.88" stroke="#2a2a2a" stroke-width="0.7" />
<line x1="71.95" y1="45.86" x2="71.95" y2="46.50" stroke="#2a2a2a" stroke-width="0.7" />
<line x1="72.85" y1="45.86" x2="72.85" y2="46.50" stroke="#2a2a2a" stroke-width="0.7" />
<line x1="71.95" y1="45.86" x2="72.85" y2="45.86" stroke="#2a2a2a" stroke-width="0.7" />
<line x1="71.06" y1="45.62" x2="72.40" y2="45.62" stroke="#2a2a2a" stroke-width="0.7" />
<line x1="73.81" y1="45.93" x2="73.81" y2="46.50" stroke="#2a2a2a" stroke-width="0.7" />
<line x1="74.58" y1="45.93" x2="74.58" y2="46.50" stroke="#2a2a2a" stroke-width="0.7" />
<line x1="73.81" y1="45.93" x2="74.58" y2="45.93" stroke="#2a2a2a" stroke-width="0.7" />
<line x1="71.73" y1="45.20" x2="74.19" y2="45.20" stroke="#2a2a2a" stroke-width="0.7" />
<line x1="64.16" y1="44.64" x2="72.96" y2="44.64" stroke="#2a2a2a" stroke-width="0.7" />
<line x1="55.17" y1="43.72" x2="68.56" y2="43.72" stroke="#2a2a2a" stroke-width="0.7" />
<line x1="60.50" y1="42.50" x2="60.50" y2="43.72" stroke="#2a2a2a" stroke-width="0.7" />
<line x1="86.30" y1="39.00" x2="86.30" y2="41.10" stroke="#2a2a2a" stroke-width="0.7" />
<line x1="78.40" y1="41.10" x2="94.90" y2="41.10" stroke="#2a2a2a" stroke-width="0.7" />
<line x1="75.65" y1="45.93" x2="75.65" y2="46.50" stroke="#2a2a2a" stroke-width="0.7" />
<line x1="76.60" y1="45.93" x2="76.60" y2="46.50" stroke="#2a2a2a" stroke-width="0.7" />
<line x1="75.65" y1="45.93" x2="76.60" y2="45.93" stroke="#2a2a2a" stroke-width="0.7" />
<line x1="77.31" y1="45.90" x2="77.31" y2="46.50" stroke="#2a2a2a" stroke-width="0.7" />
<line x1="78.09" y1="46.10" x2="78.09" y2="46.50" stroke="#2a2a2a" stroke-width="0.7" />
<line x1="78.96" y1="46.10" x2="78.96" y2="46.50" stroke="#2a2a2a" stroke-width="0.7" />
<line x1="78.09" y1="46.10" x2="78.96" y2="46.10" stroke="#2a2a2a" stroke-width="0.7" />
<line x1="77.31" y1="45.90" x2="78.53" y2="45.90" stroke="#2a2a2a" stroke-width="0.7" />
<line x1="76.12" y1="45.33" x2="77.92" y2="45.33" stroke="#2a2a2a" stroke-width="0.7" />
<line x1="79.85" y1="45.32" x2="79.85" y2="46.50" stroke="#2a2a2a" stroke-width="0.7" />
<line x1="80.80" y1="45.32" x2="80.80" y2="46.50" stroke="#2a2a2a" stroke-width="0.7" />
<line x1="79.85" y1="45.32" x2="80.80" y2="45.32" stroke="#2a2a2a" stroke-width="0.7" />
<line x1="77.02" y1="44.80" x2="80.32" y2="44.80" stroke="#2a2a2a" stroke-width="0.7" />
<line x1="81.65" y1="45.41" x2="81.65" y2="46.50" stroke="#2a2a2a" stroke-width="0.7" />
<line x1="82.35" y1="45.41" x2="82.35" y2="46.50" stroke="#2a2a2a" stroke-width="0.7" />
<line x1="81.65" y1="45.41" x2="82.35" y2="45.41" stroke="#2a2a2a" stroke-width="0.7" />
<line x1="83.31" y1="45.42" x2="83.31" y2="46.50" stroke="#2a2a2a" stroke-width="0.7" />
<line x1="84.29" y1="45.83" x2="84.29" y2="46.50" stroke="#2a2a2a" stroke-width="0.7" />
<line x1="85.10" y1="46.10" x2="85.10" y2="46.50" stroke="#2a2a2a" stroke-width="0.7" />
<line x1="85.76" y1="46.10" x2="85.76" y2="46.50" stroke="#2a2a2a" stroke-width="0.7" />
<line x1="85.10" y1="46.10" x2="85.76" y2="46.10" stroke="#2a2a2a" stroke-width="0.7" />
<line x1="84.29" y1="45.83" x2="85.43" y2="45.83" stroke="#2a2a2a" stroke-width="0.7" />
<line x1="83.31" y1="45.42" x2="84.86" y2="45.42" stroke="#2a2a2a" stroke-width="0.7" />
<line x1="82.00" y1="43.88" x2="84.09" y2="43.88" stroke="#2a2a2a" stroke-width="0.7" />
<line x1="78.67" y1="42.49" x2="83.05" y2="42.49" stroke="#2a2a2a" stroke-width="0.7" />
<line x1="78.40" y1="41.10" x2="78.40" y2="42.49" stroke="#2a2a2a" stroke-width="0.7" />
<line x1="86.46" y1="45.66" x2="86.46" y2="46.50" stroke="#2a2a2a" stroke-width="0.7" />
<line x1="87.48" y1="45.66" x2="87.48" y2="46.50" stroke="#2a2a2a" stroke-width="0.7" />
<line x1="86.46" y1="45.66" x2="87.48" y2="45.66" stroke="#2a2a2a" stroke-width="0.7" />
<line x1="88.56" y1="44.57" x2="88.56" y2="46.50" stroke="#2a2a2a" stroke-width="0.7" />
<line x1="86.97" y1="44.57" x2="88.56" y2="44.57" stroke="#2a2a2a" stroke-width="0.7" />
<line x1="89.57" y1="44.79" x2="89.57" y2="46.50" stroke="#2a2a2a" stroke-width="0.7" />
<line x1="90.29" y1="45.89" x2="90.29" y2="46.50" stroke="#2a2a2a" stroke-width="0.7" />
<line x1="90.98" y1="45.89" x2="90.98" y2="46.50" stroke="#2a2a2a" stroke-width="0.7" />
<line x1="90.29" y1="45.89" x2="90.98" y2="45.89" stroke="#2a2a2a" stroke-width="0.7" />
<line x1="91.86" y1="45.67" x2="91.86" y2="46.50" stroke="#2a2a2a" stroke-width="0.7" />
<line x1="90.63" y1="45.67" x2="91.86" y2="45.67" stroke="#2a2a2a" stroke-width="0.7" />
<line x1="89.57" y1="44.79" x2="91.25" y2="44.79" stroke="#2a2a2a" stroke-width="0.7" />
<line x1="87.77" y1="43.67" x2="90.41" y2="43.67" stroke="#2a2a2a" stroke-width="0.7" />
<line x1="92.71" y1="45.55" x2="92.71" y2="46.50" stroke="#2a2a2a" stroke-width="0.7" />
<line x1="93.79" y1="45.55" x2="93.79" y2="46.50" stroke="#2a2a2a" stroke-width="0.7" />
<line x1="92.71" y1="45.55" x2="93.79" y2="45.55" stroke="#2a2a2a" stroke-width="0.7" />
<line x1="95.03" y1="45.99" x2="95.03" y2="46.50" stroke="#2a2a2a" stroke-width="0.7" />
<line x1="96.11" y1="46.10" x2="96.11" y2="46.50" stroke="#2a2a2a" stroke-width="0.7" />
<line x1="96.98" y1="46.10" x2="96.98" y2="46.50" stroke="#2a2a2a" stroke-width="0.7" />
<line x1="96.11" y1="46.10" x2="96.98" y2="46.10" stroke="#2a2a2a" stroke-width="0.7" />
<line x1="95.03" y1="45.99" x2="96.55" y2="45.99" stroke="#2a2a2a" stroke-width="0.7" />
<line x1="97.82" y1="45.71" x2="97.82" y2="46.50" stroke="#2a2a2a" stroke-width="0.7" />
<line x1="98.59" y1="45.71" x2="98.59" y2="46.50" stroke="#2a2a2a" stroke-width="0.7" />
<line x1="97.82" y1="45.71" x2="98.59" y2="45.71" stroke="#2a2a2a" stroke-width="0.7" />
<line x1="95.79" y1="45.27" x2="98.20" y2="45.27" stroke="#2a2a2a" stroke-width="0.7" />
<line x1="93.25" y1="44.55" x2="97.00" y2="44.55" stroke="#2a2a2a" stroke-width="0.7" />
<line x1="89.09" y1="41.94" x2="95.12" y2="41.94" stroke="#2a2a2a" stroke-width="0.7" />
<line x1="94.90" y1="41.10" x2="94.90" y2="41.94" stroke="#2a2a2a" stroke-width="0.7" />
<line x1="134.50" y1="39.10" x2="134.50" y2="41.10" stroke="#2a2a2a" stroke-width="0.7" />
<line x1="114.10" y1="41.10" x2="154.40" y2="41.10" stroke="#2a2a2a" stroke-width="0.7" />
<line x1="100.42" y1="46.10" x2="100.42" y2="46.50" stroke="#2a2a2a" stroke-width="0.7" />
<line x1="101.08" y1="46.10" x2="101.08" y2="46.50" stroke="#2a2a2a" stroke-width="0.7" />
<line x1="100.42" y1="46.10" x2="101.08" y2="46.10" stroke="#2a2a2a" stroke-width="0.7" />
<line x1="101.81" y1="46.10" x2="101.81" y2="46.50" stroke="#2a2a2a" stroke-width="0.7" />
<line x1="102.81" y1="46.10" x2="102.81" y2="46.50" stroke="#2a2a2a" stroke-width="0.7" />
<line x1="101.81" y1="46.10" x2="102.81" y2="46.10" stroke="#2a2a2a" stroke-width="0.7" />
<line x1="103.87" y1="46.10" x2="103.87" y2="46.50" stroke="#2a2a2a" stroke-width="0.7" />
<line x1="102.31" y1="46.10" x2="103.87" y2="46.10" stroke="#2a2a2a" stroke-width="0.7" />
<line x1="100.75" y1="45.95" x2="103.09" y2="45.95" stroke="#2a2a2a" stroke-width="0.7" />
<line x1="104.65" y1="46.10" x2="104.65" y2="46.50" stroke="#2a2a2a" stroke-width="0.7" />
<line x1="105.50" y1="46.10" x2="105.50" y2="46.50" stroke="#2a2a2a" stroke-width="0.7" />
<line x1="104.65" y1="46.10" x2="105.50" y2="46.10" stroke="#2a2a2a" stroke-width="0.7" />
<line x1="106.54" y1="46.10" x2="106.54" y2="46.50" stroke="#2a2a2a" stroke-width="0.7" />
<line x1="107.40" y1="46.10" x2="107.40" y2="46.50" stroke="#2a2a2a" stroke-width="0.7" />
<line x1="106.54" y1="46.10" x2="107.40" y2="46.10" stroke="#2a2a2a" stroke-width="0.7" />
<line x1="105.07" y1="46.10" x2="106.97" y2="46.10" stroke="#2a2a2a" stroke-width="0.7" />
<line x1="101.92" y1="45.67" x2="106.02" y2="45.67" stroke="#2a2a2a" stroke-width="0.7" />
<line x1="108.04" y1="46.10" x2="108.04" y2="46.50" stroke="#2a2a2a" stroke-width="0.7" />
<line x1="108.71" y1="46.10" x2="108.71" y2="46.50" stroke="#2a2a2a" stroke-width="0.7" />
<line x1="108.04" y1="46.10" x2="108.71" y2="46.10" stroke="#2a2a2a" stroke-width="0.7" />
<line x1="109.36" y1="46.04" x2="109.36" y2="46.50" stroke="#2a2a2a" stroke-width="0.7" />
<line x1="110.24" y1="46.04" x2="110.24" y2="46.50" stroke="#2a2a2a" stroke-width="0.7" />
<line x1="109.36" y1="46.04" x2="110.24" y2="46.04" stroke="#2a2a2a" stroke-width="0.7" />
<line x1="108.37" y1="45.82" x2="109.80" y2="45.82" stroke="#2a2a2a" stroke-width="0.7" />
<line x1="111.42" y1="45.80" x2="111.42" y2="46.50" stroke="#2a2a2a" stroke-width="0.7" />
<line x1="112.40" y1="45.80" x2="112.40" y2="46.50" stroke="#2a2a2a" stroke-width="0.7" />
<line x1="111.42" y1="45.80" x2="112.40" y2="45.80" stroke="#2a2a2a" stroke-width="0.7" />
<line x1="109.09" y1="45.44" x2="111.91" y2="45.44" stroke="#2a2a2a" stroke-width="0.7" />
<line x1="103.97" y1="44.53" x2="110.50" y2="44.53" stroke="#2a2a2a" stroke-width="0.7" />
<line x1="113.42" y1="45.87" x2="113.42" y2="46.50" stroke="#2a2a2a" stroke-width="0.7" />
<line x1="114.31" y1="45.87" x2="114.31" y2="46.50" stroke="#2a2a2a" stroke-width="0.7" />
<line x1="113.42" y1="45.87" x2="114.31" y2="45.87" stroke="#2a2a2a" stroke-width="0.7" />
<line x1="114.98" y1="45.55" x2="114.98" y2="46.50" stroke="#2a2a2a" stroke-width="0.7" />
<line x1="113.87" y1="45.55" x2="114.98" y2="45.55" stroke="#2a2a2a" stroke-width="0.7" />
<line x1="115.78" y1="44.95" x2="115.78" y2="46.50" stroke="#2a2a2a" stroke-width="0.7" />
<line x1="116.57" y1="45.72" x2="116.57" y2="46.50" stroke="#2a2a2a" stroke-width="0.7" />
<line x1="117.36" y1="45.72" x2="117.36" y2="46.50" stroke="#2a2a2a" stroke-width="0.7" />
<line x1="116.57" y1="45.72" x2="117.36" y2="45.72" stroke="#2a2a2a" stroke-width="0.7" />
<line x1="115.78" y1="44.95" x2="116.96" y2="44.95" stroke="#2a2a2a" stroke-width="0.7" />
<line x1="114.42" y1="44.34" x2="116.37" y2="44.34" stroke="#2a2a2a" stroke-width="0.7" />
<line x1="118.17" y1="46.10" x2="118.17" y2="46.50" stroke="#2a2a2a" stroke-width="0.7" />
<line x1="118.82" y1="46.10" x2="118.82" y2="46.50" stroke="#2a2a2a" stroke-width="0.7" />
<line x1="118.17" y1="46.10" x2="118.82" y2="46.10" stroke="#2a2a2a" stroke-width="0.7" />
<line x1="119.55" y1="45.91" x2="119.55" y2="46.50" stroke="#2a2a2a" stroke-width="0.7" />
<line x1="118.50" y1="45.91" x2="119.55" y2="45.91" stroke="#2a2a2a" stroke-width="0.7" />
<line x1="120.50" y1="45.95" x2="120.50" y2="46.50" stroke="#2a2a2a" stroke-width="0.7" />
<line x1="121.31" y1="46.10" x2="121.31" y2="46.50" stroke="#2a2a2a" stroke-width="0.7" />
<line x1="122.16" y1="46.10" x2="122.16" y2="46.50" stroke="#2a2a2a" stroke-width="0.7" />
<line x1="121.31" y1="46.10" x2="122.16" y2="46.10" stroke="#2a2a2a" stroke-width="0.7" />
<line x1="120.50" y1="45.95" x2="121.74" y2="45.95" stroke="#2a2a2a" stroke-width="0.7" />
<line x1="119.02" y1="45.29" x2="121.12" y2="45.29" stroke="#2a2a2a" stroke-width="0.7" />
<line x1="123.11" y1="45.76" x2="123.11" y2="46.50" stroke="#2a2a2a" stroke-width="0.7" />
<line x1="123.87" y1="45.99" x2="123.87" y2="46.50" stroke="#2a2a2a" stroke-width="0.7" />
<line x1="124.61" y1="45.99" x2="124.61" y2="46.50" stroke="#2a2a2a" stroke-width="0.7" />
<line x1="123.87" y1="45.99" x2="124.61" y2="45.99" stroke="#2a2a2a" stroke-width="0.7" />
<line x1="123.11" y1="45.76" x2="124.24" y2="45.76" stroke="#2a2a2a" stroke-width="0.7" />
<line x1="125.47" y1="46.10" x2="125.47" y2="46.50" stroke="#2a2a2a" stroke-width="0.7" />
<line x1="126.43" y1="46.10" x2="126.43" y2="46.50" stroke="#2a2a2a" stroke-width="0.7" />
<line x1="125.47" y1="46.10" x2="126.43" y2="46.10" stroke="#2a2a2a" stroke-width="0.7" />
<line x1="127.49" y1="45.89" x2="127.49" y2="46.50" stroke="#2a2a2a" stroke-width="0.7" />
<line x1="125.95" y1="45.89" x2="127.49" y2="45.89" stroke="#2a2a2a" stroke-width="0.7" />
<line x1="123.68" y1="45.39" x2="126.72" y2="45.39" stroke="#2a2a2a" stroke-width="0.7" />
<line x1="120.07" y1="44.23" x2="125.20" y2="44.23" stroke="#2a2a2a" stroke-width="0.7" />
<line x1="115.40" y1="43.11" x2="122.63" y2="43.11" stroke="#2a2a2a" stroke-width="0.7" />
<line x1="107.24" y1="41.90" x2="119.02" y2="41.90" stroke="#2a2a2a" stroke-width="0.7" />
<line x1="114.10" y1="41.10" x2="114.10" y2="41.90" stroke="#2a2a2a" stroke-width="0.7" />
<line x1="128.45" y1="46.10" x2="128.45" y2="46.50" stroke="#2a2a2a" stroke-width="0.7" />
<line x1="129.13" y1="46.10" x2="129.13" y2="46.50" stroke="#2a2a2a" stroke-width="0.7" />
<line x1="128.45" y1="46.10" x2="129.13" y2="46.10" stroke="#2a2a2a" stroke-width="0.7" />
<line x1="129.76" y1="46.10" x2="129.76" y2="46.50" stroke="#2a2a2a" stroke-width="0.7" />
<line x1="128.79" y1="46.10" x2="129.76" y2="46.10" stroke="#2a2a2a" stroke-width="0.7" />
<line x1="130.49" y1="46.10" x2="130.49" y2="46.50" stroke="#2a2a2a" stroke-width="0.7" />
<line x1="131.36" y1="46.10" x2="131.36" y2="46.50" stroke="#2a2a2a" stroke-width="0.7" />
<line x1="130.49" y1="46.10" x2="131.36" y2="46.10" stroke="#2a2a2a" stroke-width="0.7" />
<line x1="132.55" y1="46.10" x2="132.55" y2="46.50" stroke="#2a2a2a" stroke-width="0.7" />
<line x1="133.76" y1="46.10" x2="133.76" y2="46.50" stroke="#2a2a2a" stroke-width="0.7" />
<line x1="132.55" y1="46.10" x2="133.76" y2="46.10" stroke="#2a2a2a" stroke-width="0.7" />
<line x1="130.92" y1="46.10" x2="133.16" y2="46.10" stroke="#2a2a2a" stroke-width="0.7" />
<line x1="129.27" y1="46.04" x2="132.04" y2="46.04" stroke="#2a2a2a" stroke-width="0.7" />
<line x1="134.86" y1="46.10" x2="134.86" y2="46.50" stroke="#2a2a2a" stroke-width="0.7" />
<line x1="135.97" y1="46.10" x2="135.97" y2="46.50" stroke="#2a2a2a" stroke-width="0.7" />
<line x1="134.86" y1="46.10" x2="135.97" y2="46.10" stroke="#2a2a2a" stroke-width="0.7" />
<line x1="136.84" y1="46.10" x2="136.84" y2="46.50" stroke="#2a2a2a" stroke-width="0.7" />
<line x1="137.67" y1="46.10" x2="137.67" y2="46.50" stroke="#2a2a2a" stroke-width="0.7" />
<line x1="136.84" y1="46.10" x2="137.67" y2="46.10" stroke="#2a2a2a" stroke-width="0.7" />
<line x1="138.75" y1="46.10" x2="138.75" y2="46.50" stroke="#2a2a2a" stroke-width="0.7" />
<line x1="137.25" y1="46.10" x2="138.75" y2="46.10" stroke="#2a2a2a" stroke-width="0.7" />
<line x1="135.42" y1="46.10" x2="138.00" y2="46.10" stroke="#2a2a2a" stroke-width="0.7" />
<line x1="130.66" y1="45.71" x2="136.71" y2="45.71" stroke="#2a2a2a" stroke-width="0.7" />
<line x1="139.72" y1="46.10" x2="139.72" y2="46.50" stroke="#2a2a2a" stroke-width="0.7" />
<line x1="140.53" y1="46.10" x2="140.53" y2="46.50" stroke="#2a2a2a" stroke-width="0.7" />
<line x1="139.72" y1="46.10" x2="140.53" y2="46.10" stroke="#2a2a2a" stroke-width="0.7" />
<line x1="141.41" y1="46.04" x2="141.41" y2="46.50" stroke="#2a2a2a" stroke-width="0.7" />
<line x1="142.27" y1="46.10" x2="142.27" y2="46.50" stroke="#2a2a2a" stroke-width="0.7" />
<line x1="143.09" y1="46.10" x2="143.09" y2="46.50" stroke="#2a2a2a" stroke-width="0.7" />
<line x1="142.27" y1="46.10" x2="143.09" y2="46.10" stroke="#2a2a2a" stroke-width="0.7" />
<line x1="141.41" y1="46.04" x2="142.68" y2="46.04" stroke="#2a2a2a" stroke-width="0.7" />
<line x1="140.13" y1="45.89" x2="142.05" y2="45.89" stroke="#2a2a2a" stroke-width="0.7" />
<line x1="143.93" y1="46.10" x2="143.93" y2="46.50" stroke="#2a2a2a" stroke-width="0.7" />
<line x1="144.92" y1="46.10" x2="144.92" y2="46.50" stroke="#2a2a2a" stroke-width="0.7" />
<line x1="143.93" y1="46.10" x2="144.92" y2="46.10" stroke="#2a2a2a" stroke-width="0.7" />
<line x1="145.82" y1="46.10" x2="145.82" y2="46.50" stroke="#2a2a2a" stroke-width="0.7" />
<line x1="146.68" y1="46.10" x2="146.68" y2="46.50" stroke="#2a2a2a" stroke-width="0.7" />
<line x1="145.82" y1="46.10" x2="146.68" y2="46.10" stroke="#2a2a2a" stroke-width="0.7" />
<line x1="147.66" y1="46.10" x2="147.66" y2="46.50" stroke="#2a2a2a" stroke-width="0.7" />
<line x1="148.46" y1="46.10" x2="148.46" y2="46.50" stroke="#2a2a2a" stroke-width="0.7" />
<line x1="147.66" y1="46.10" x2="148.46" y2="46.10" stroke="#2a2a2a" stroke-width="0.7" />
<line x1="146.25" y1="46.07" x2="148.06" y2="46.07" stroke="#2a2a2a" stroke-width="0.7" />
<line x1="144.43" y1="45.91" x2="147.16" y2="45.91" stroke="#2a2a2a" stroke-width="0.7" />
<line x1="141.09" y1="45.58" x2="145.79" y2="45.58" stroke="#2a2a2a" stroke-width="0.7" />
<line x1="149.16" y1="46.10" x2="149.16" y2="46.50" stroke="#2a2a2a" stroke-width="0.7" />
<line x1="149.92" y1="46.10" x2="149.92" y2="46.50" stroke="#2a2a2a" stroke-width="0.7" />
<line x1="149.16" y1="46.10" x2="149.92" y2="46.10" stroke="#2a2a2a" stroke-width="0.7" />
<line x1="150.93" y1="45.95" x2="150.93" y2="46.50" stroke="#2a2a2a" stroke-width="0.7" />
<line x1="149.54" y1="45.95" x2="150.93" y2="45.95" stroke="#2a2a2a" stroke-width="0.7" />
<line x1="151.93" y1="46.10" x2="151.93" y2="46.50" stroke="#2a2a2a" stroke-width="0.7" />
<line x1="152.87" y1="46.10" x2="152.87" y2="46.50" stroke="#2a2a2a" stroke-width="0.7" />
<line x1="151.93" y1="46.10" x2="152.87" y2="46.10" stroke="#2a2a2a" stroke-width="0.7" />
<line x1="153.96" y1="46.10" x2="153.96" y2="46.50" stroke="#2a2a2a" stroke-width="0.7" />
<line x1="154.80" y1="46.10" x2="154.80" y2="46.50" stroke="#2a2a2a" stroke-width="0.7" />
<line x1="153.96" y1="46.10" x2="154.80" y2="46.10" stroke="#2a2a2a" stroke-width="0.7" />
<line x1="152.40" y1="46.10" x2="154.38" y2="46.10" stroke="#2a2a2a" stroke-width="0.7" />
<line x1="155.38" y1="46.10" x2="155.38" y2="46.50" stroke="#2a2a2a" stroke-width="0.7" />
<line x1="156.21" y1="46.10" x2="156.21" y2="46.50" stroke="#2a2a2a" stroke-width="0.7" />
<line x1="155.38" y1="46.10" x2="156.21" y2="46.10" stroke="#2a2a2a" stroke-width="0.7" />
<line x1="153.39" y1="45.91" x2="155.79" y2="45.91" stroke="#2a2a2a" stroke-width="0.7" />
<line x1="150.24" y1="45.59" x2="154.59" y2="45.59" stroke="#2a2a2a" stroke-width="0.7" />
<line x1="143.44" y1="45.18" x2="152.41" y2="45.18" stroke="#2a2a2a" stroke-width="0.7" />
<line x1="133.68" y1="44.54" x2="147.93" y2="44.54" stroke="#2a2a2a" stroke-width="0.7" />
<line x1="157.09" y1="46.00" x2="157.09" y2="46.50" stroke="#2a2a2a" stroke-width="0.7" />
<line x1="158.09" y1="46.00" x2="158.09" y2="46.50" stroke="#2a2a2a" stroke-width="0.7" />
<line x1="157.09" y1="46.00" x2="158.09" y2="46.00" stroke="#2a2a2a" stroke-width="0.7" />
<line x1="159.25" y1="45.82" x2="159.25" y2="46.50" stroke="#2a2a2a" stroke-width="0.7" />
<line x1="157.59" y1="45.82" x2="159.25" y2="45.82" stroke="#2a2a2a" stroke-width="0.7" />
<line x1="160.25" y1="45.90" x2="160.25" y2="46.50" stroke="#2a2a2a" stroke-width="0.7" />
<line x1="161.15" y1="45.90" x2="161.15" y2="46.50" stroke="#2a2a2a" stroke-width="0.7" />
<line x1="160.25" y1="45.90" x2="161.15" y2="45.90" stroke="#2a2a2a" stroke-width="0.7" />
<line x1="158.42" y1="45.35" x2="160.70" y2="45.35" stroke="#2a2a2a" stroke-width="0.7" />
<line x1="162.04" y1="45.66" x2="162.04" y2="46.50" stroke="#2a2a2a" stroke-width="0.7" />
<line x1="162.87" y1="45.66" x2="162.87" y2="46.50" stroke="#2a2a2a" stroke-width="0.7" />
<line x1="162.04" y1="45.66" x2="162.87" y2="45.66" stroke="#2a2a2a" stroke-width="0.7" />
<line x1="163.66" y1="45.14" x2="163.66" y2="46.50" stroke="#2a2a2a" stroke-width="0.7" />
<line x1="162.45" y1="45.14" x2="163.66" y2="45.14" stroke="#2a2a2a" stroke-width="0.7" />
<line x1="159.56" y1="44.61" x2="163.06" y2="44.61" stroke="#2a2a2a" stroke-width="0.7" />
<line x1="164.49" y1="46.09" x2="164.49" y2="46.50" stroke="#2a2a2a" stroke-width="0.7" />
<line x1="165.32" y1="46.09" x2="165.32" y2="46.50" stroke="#2a2a2a" stroke-width="0.7" />
<line x1="164.49" y1="46.09" x2="165.32" y2="46.09" stroke="#2a2a2a" stroke-width="0.7" />
<line x1="166.14" y1="45.61" x2="166.14" y2="46.50" stroke="#2a2a2a" stroke-width="0.7" />
<line x1="164.90" y1="45.61" x2="166.14" y2="45.61" stroke="#2a2a2a" stroke-width="0.7" />
<line x1="166.97" y1="46.10" x2="166.97" y2="46.50" stroke="#2a2a2a" stroke-width="0.7" />
<line x1="167.94" y1="46.10" x2="167.94" y2="46.50" stroke="#2a2a2a" stroke-width="0.7" />
<line x1="168.72" y1="46.10" x2="168.72" y2="46.50" stroke="#2a2a2a" stroke-width="0.7" />
<line x1="167.94" y1="46.10" x2="168.72" y2="46.10" stroke="#2a2a2a" stroke-width="0.7" />
<line x1="166.97" y1="46.10" x2="168.33" y2="46.10" stroke="#2a2a2a" stroke-width="0.7" />
<line x1="169.51" y1="45.65" x2="169.51" y2="46.50" stroke="#2a2a2a" stroke-width="0.7" />
<line x1="167.65" y1="45.65" x2="169.51" y2="45.65" stroke="#2a2a2a" stroke-width="0.7" />
<line x1="165.52" y1="45.26" x2="168.58" y2="45.26" stroke="#2a2a2a" stroke-width="0.7" />
<line x1="170.50" y1="46.10" x2="170.50" y2="46.50" stroke="#2a2a2a" stroke-width="0.7" />
<line x1="171.45" y1="46.10" x2="171.45" y2="46.50" stroke="#2a2a2a" stroke-width="0.7" />
<line x1="170.50" y1="46.10" x2="171.45" y2="46.10" stroke="#2a2a2a" stroke-width="0.7" />
<line x1="172.37" y1="46.10" x2="172.37" y2="46.50" stroke="#2a2a2a" stroke-width="0.7" />
<line x1="173.05" y1="46.10" x2="173.05" y2="46.50" stroke="#2a2a2a" stroke-width="0.7" />
<line x1="173.75" y1="46.10" x2="173.75" y2="46.50" stroke="#2a2a2a" stroke-width="0.7" />
<line x1="173.05" y1="46.10" x2="173.75" y2="46.10" stroke="#2a2a2a" stroke-width="0.7" />
<line x1="172.37" y1="46.10" x2="173.40" y2="46.10" stroke="#2a2a2a" stroke-width="0.7" />
<line x1="174.76" y1="46.10" x2="174.76" y2="46.50" stroke="#2a2a2a" stroke-width="0.7" />
<line x1="175.67" y1="46.10" x2="175.67" y2="46.50" stroke="#2a2a2a" stroke-width="0.7" />
<line x1="174.76" y1="46.10" x2="175.67" y2="46.10" stroke="#2a2a2a" stroke-width="0.7" />
<line x1="172.88" y1="46.07" x2="175.22" y2="46.07" stroke="#2a2a2a" stroke-width="0.7" />
<line x1="170.97" y1="45.57" x2="174.05" y2="45.57" stroke="#2a2a2a" stroke-width="0.7" />
<line x1="167.05" y1="44.31" x2="172.51" y2="44.31" stroke="#2a2a2a" stroke-width="0.7" />
<line x1="161.31" y1="43.36" x2="169.78" y2="43.36" stroke="#2a2a2a" stroke-width="0.7" />
<line x1="140.80" y1="42.31" x2="165.55" y2="42.31" stroke="#2a2a2a" stroke-width="0.7" />
<line x1="154.40" y1="41.10" x2="154.40" y2="42.31" stroke="#2a2a2a" stroke-width="0.7" />
<line x1="176.47" y1="45.82" x2="176.47" y2="46.50" stroke="#2a2a2a" stroke-width="0.7" />
<line x1="177.50" y1="45.82" x2="177.50" y2="46.50" stroke="#2a2a2a" stroke-width="0.7" />
<line x1="176.47" y1="45.82" x2="177.50" y2="45.82" stroke="#2a2a2a" stroke-width="0.7" />
<line x1="178.54" y1="46.02" x2="178.54" y2="46.50" stroke="#2a2a2a" stroke-width="0.7" />
<line x1="179.50" y1="46.10" x2="179.50" y2="46.50" stroke="#2a2a2a" stroke-width="0.7" />
<line x1="180.23" y1="46.10" x2="180.23" y2="46.50" stroke="#2a2a2a" stroke-width="0.7" />
<line x1="179.50" y1="46.10" x2="180.23" y2="46.10" stroke="#2a2a2a" stroke-width="0.7" />
<line x1="178.54" y1="46.02" x2="179.87" y2="46.02" stroke="#2a2a2a" stroke-width="0.7" />
<line x1="176.98" y1="45.54" x2="179.20" y2="45.54" stroke="#2a2a2a" stroke-width="0.7" />
<line x1="181.10" y1="46.10" x2="181.10" y2="46.50" stroke="#2a2a2a" stroke-width="0.7" />
<line x1="182.19" y1="46.10" x2="182.19" y2="46.50" stroke="#2a2a2a" stroke-width="0.7" />
<line x1="183.12" y1="46.10" x2="183.12" y2="46.50" stroke="#2a2a2a" stroke-width="0.7" />
<line x1="184.00" y1="46.10" x2="184.00" y2="46.50" stroke="#2a2a2a" stroke-width="0.7" />
<line x1="183.12" y1="46.10" x2="184.00" y2="46.10" stroke="#2a2a2a" stroke-width="0.7" />
<line x1="182.19" y1="46.10" x2="183.56" y2="46.10" stroke="#2a2a2a" stroke-width="0.7" />
<line x1="181.10" y1="46.10" x2="182.88" y2="46.10" stroke="#2a2a2a" stroke-width="0.7" />
<line x1="184.83" y1="46.10" x2="184.83" y2="46.50" stroke="#2a2a2a" stroke-width="0.7" />
<line x1="185.58" y1="46.10" x2="185.58" y2="46.50" stroke="#2a2a2a" stroke-width="0.7" />
<line x1="184.83" y1="46.10" x2="185.58" y2="46.10" stroke="#2a2a2a" stroke-width="0.7" />
<line x1="186.52" y1="46.10" x2="186.52" y2="46.50" stroke="#2a2a2a" stroke-width="0.7" />
<line x1="187.55" y1="46.10" x2="187.55" y2="46.50" stroke="#2a2a2a" stroke-width="0.7" />
<line x1="186.52" y1="46.10" x2="187.55" y2="46.10" stroke="#2a2a2a" stroke-width="0.7" />
<line x1="185.21" y1="46.01" x2="187.03" y2="46.01" stroke="#2a2a2a" stroke-width="0.7" />
<line x1="181.99" y1="45.68" x2="186.12" y2="45.68" stroke="#2a2a2a" stroke-width="0.7" />
<line x1="178.09" y1="44.82" x2="184.05" y2="44.82" stroke="#2a2a2a" stroke-width="0.7" />
<line x1="188.61" y1="45.98" x2="188.61" y2="46.50" stroke="#2a2a2a" stroke-width="0.7" />
<line x1="189.79" y1="46.10" x2="189.79" y2="46.50" stroke="#2a2a2a" stroke-width="0.7" />
<line x1="190.73" y1="46.10" x2="190.73" y2="46.50" stroke="#2a2a2a" stroke-width="0.7" />
<line x1="189.79" y1="46.10" x2="190.73" y2="46.10" stroke="#2a2a2a" stroke-width="0.7" />
<line x1="188.61" y1="45.98" x2="190.26" y2="45.98" stroke="#2a2a2a" stroke-width="0.7" />
<line x1="191.57" y1="45.87" x2="191.57" y2="46.50" stroke="#2a2a2a" stroke-width="0.7" />
<line x1="192.32" y1="46.06" x2="192.32" y2="46.50" stroke="#2a2a2a" stroke-width="0.7" />
<line x1="193.13" y1="46.06" x2="193.13" y2="46.50" stroke="#2a2a2a" stroke-width="0.7" />
<line x1="192.32" y1="46.06" x2="193.13" y2="46.06" stroke="#2a2a2a" stroke-width="0.7" />
<line x1="191.57" y1="45.87" x2="192.73" y2="45.87" stroke="#2a2a2a" stroke-width="0.7" />
<line x1="189.44" y1="45.43" x2="192.15" y2="45.43" stroke="#2a2a2a" stroke-width="0.7" />
<line x1="193.88" y1="46.10" x2="193.88" y2="46.50" stroke="#2a2a2a" stroke-width="0.7" />
<line x1="194.58" y1="46.10" x2="194.58" y2="46.50" stroke="#2a2a2a" stroke-width="0.7" />
<line x1="193.88" y1="46.10" x2="194.58" y2="46.10" stroke="#2a2a2a" stroke-width="0.7" />
<line x1="195.32" y1="46.10" x2="195.32" y2="46.50" stroke="#2a2a2a" stroke-width="0.7" />
<line x1="196.09" y1="46.10" x2="196.09" y2="46.50" stroke="#2a2a2a" stroke-width="0.7" />
<line x1="195.32" y1="46.10" x2="196.09" y2="46.10" stroke="#2a2a2a" stroke-width="0.7" />
<line x1="194.23" y1="45.74" x2="195.70" y2="45.74" stroke="#2a2a2a" stroke-width="0.7" />
<line x1="196.93" y1="46.06" x2="196.93" y2="46.50" stroke="#2a2a2a" stroke-width="0.7" />
<line x1="197.56" y1="46.10" x2="197.56" y2="46.50" stroke="#2a2a2a" stroke-width="0.7" />
<line x1="198.24" y1="46.10" x2="198.24" y2="46.50" stroke="#2a2a2a" stroke-width="0.7" />
<line x1="197.56" y1="46.10" x2="198.24" y2="46.10" stroke="#2a2a2a" stroke-width="0.7" />
<line x1="196.93" y1="46.06" x2="197.90" y2="46.06" stroke="#2a2a2a" stroke-width="0.7" />
<line x1="199.26" y1="45.74" x2="199.26" y2="46.50" stroke="#2a2a2a" stroke-width="0.7" />
<line x1="197.42" y1="45.74" x2="199.26" y2="45.74" stroke="#2a2a2a" stroke-width="0.7" />
<line x1="194.97" y1="45.17" x2="198.34" y2="45.17" stroke="#2a2a2a" stroke-width="0.7" />
<line x1="190.79" y1="44.65" x2="196.65" y2="44.65" stroke="#2a2a2a" stroke-width="0.7" />
<line x1="181.07" y1="44.00" x2="193.72" y2="44.00" stroke="#2a2a2a" stroke-width="0.7" />
<line x1="194.40" y1="39.10" x2="194.40" y2="44.00" stroke="#2a2a2a" stroke-width="0.7" />
<line x1="201.60" y1="46.10" x2="201.60" y2="46.50" stroke="#2a2a2a" stroke-width="0.7" />
<line x1="202.33" y1="46.10" x2="202.33" y2="46.50" stroke="#2a2a2a" stroke-width="0.7" />
<line x1="201.60" y1="46.10" x2="202.33" y2="46.10" stroke="#2a2a2a" stroke-width="0.7" />
<line x1="202.99" y1="45.98" x2="202.99" y2="46.50" stroke="#2a2a2a" stroke-width="0.7" />
<line x1="201.97" y1="45.98" x2="202.99" y2="45.98" stroke="#2a2a2a" stroke-width="0.7" />
<line x1="203.93" y1="45.74" x2="203.93" y2="46.50" stroke="#2a2a2a" stroke-width="0.7" />
<line x1="202.48" y1="45.74" x2="203.93" y2="45.74" stroke="#2a2a2a" stroke-width="0.7" />
<line x1="204.94" y1="46.10" x2="204.94" y2="46.50" stroke="#2a2a2a" stroke-width="0.7" />
<line x1="205.70" y1="46.10" x2="205.70" y2="46.50" stroke="#2a2a2a" stroke-width="0.7" />
<line x1="204.94" y1="46.10" x2="205.70" y2="46.10" stroke="#2a2a2a" stroke-width="0.7" />
<line x1="206.53" y1="46.10" x2="206.53" y2="46.50" stroke="#2a2a2a" stroke-width="0.7" />
<line x1="207.37" y1="46.10" x2="207.37" y2="46.50" stroke="#2a2a2a" stroke-width="0.7" />
<line x1="208.11" y1="46.10" x2="208.11" y2="46.50" stroke="#2a2a2a" stroke-width="0.7" />
<line x1="207.37" y1="46.10" x2="208.11" y2="46.10" stroke="#2a2a2a" stroke-width="0.7" />
<line x1="206.53" y1="46.10" x2="207.74" y2="46.10" stroke="#2a2a2a" stroke-width="0.7" />
<line x1="205.32" y1="46.10" x2="207.13" y2="46.10" stroke="#2a2a2a" stroke-width="0.7" />
<line x1="208.97" y1="46.10" x2="208.97" y2="46.50" stroke="#2a2a2a" stroke-width="0.7" />
<line x1="209.93" y1="46.10" x2="209.93" y2="46.50" stroke="#2a2a2a" stroke-width="0.7" />
<line x1="208.97" y1="46.10" x2="209.93" y2="46.10" stroke="#2a2a2a" stroke-width="0.7" />
<line x1="206.23" y1="45.84" x2="209.45" y2="45.84" stroke="#2a2a2a" stroke-width="0.7" />
<line x1="203.21" y1="44.97" x2="207.84" y2="44.97" stroke="#2a2a2a" stroke-width="0.7" />
<line x1="210.96" y1="45.74" x2="210.96" y2="46.50" stroke="#2a2a2a" stroke-width="0.7" />
<line x1="211.72" y1="45.94" x2="211.72" y2="46.50" stroke="#2a2a2a" stroke-width="0.7" />
<line x1="212.40" y1="45.94" x2="212.40" y2="46.50" stroke="#2a2a2a" stroke-width="0.7" />
<line x1="211.72" y1="45.94" x2="212.40" y2="45.94" stroke="#2a2a2a" stroke-width="0.7" />
<line x1="210.96" y1="45.74" x2="212.06" y2="45.74" stroke="#2a2a2a" stroke-width="0.7" />
<line x1="213.36" y1="45.18" x2="213.36" y2="46.50" stroke="#2a2a2a" stroke-width="0.7" />
<line x1="211.51" y1="45.18" x2="213.36" y2="45.18" stroke="#2a2a2a" stroke-width="0.7" />
<line x1="214.44" y1="46.02" x2="214.44" y2="46.50" stroke="#2a2a2a" stroke-width="0.7" />
<line x1="215.22" y1="46.02" x2="215.22" y2="46.50" stroke="#2a2a2a" stroke-width="0.7" />
<line x1="214.44" y1="46.02" x2="215.22" y2="46.02" stroke="#2a2a2a" stroke-width="0.7" />
<line x1="215.86" y1="45.81" x2="215.86" y2="46.50" stroke="#2a2a2a" stroke-width="0.7" />
<line x1="214.83" y1="45.81" x2="215.86" y2="45.81" stroke="#2a2a2a" stroke-width="0.7" />
<line x1="216.84" y1="45.99" x2="216.84" y2="46.50" stroke="#2a2a2a" stroke-width="0.7" />
<line x1="218.03" y1="45.99" x2="218.03" y2="46.50" stroke="#2a2a2a" stroke-width="0.7" />
<line x1="216.84" y1="45.99" x2="218.03" y2="45.99" stroke="#2a2a2a" stroke-width="0.7" />
<line x1="218.94" y1="46.07" x2="218.94" y2="46.50" stroke="#2a2a2a" stroke-width="0.7" />
<line x1="219.68" y1="46.07" x2="219.68" y2="46.50" stroke="#2a2a2a" stroke-width="0.7" />
<line x1="218.94" y1="46.07" x2="219.68" y2="46.07" stroke="#2a2a2a" stroke-width="0.7" />
<line x1="217.43" y1="45.54" x2="219.31" y2="45.54" stroke="#2a2a2a" stroke-width="0.7" />
<line x1="215.34" y1="45.15" x2="218.37" y2="45.15" stroke="#2a2a2a" stroke-width="0.7" />
<line x1="212.44" y1="44.55" x2="216.86" y2="44.55" stroke="#2a2a2a" stroke-width="0.7" />
<line x1="205.52" y1="43.10" x2="214.65" y2="43.10" stroke="#2a2a2a" stroke-width="0.7" />
<line x1="212.30" y1="34.00" x2="212.30" y2="43.10" stroke="#2a2a2a" stroke-width="0.7" />
<rect x="24.60" y="45.70" width="74.30" height="1.00" fill="#222" stroke="none" stroke-width="0" opacity="0.7"/>
<rect x="100.10" y="45.70" width="99.80" height="1.00" fill="#222" stroke="none" stroke-width="0" opacity="0.7"/>
<rect x="201.10" y="45.70" width="19.00" height="1.00" fill="#222" stroke="none" stroke-width="0" opacity="0.7"/>
<text x="225.00" y="52.60" font-size="4.4" text-anchor="start" fill="#3a3a3a" >tFP</text>
<text x="225.00" y="79.50" font-size="4.4" text-anchor="start" fill="#3a3a3a" >FK866dn</text>
<text x="225.00" y="128.30" font-size="4.4" text-anchor="start" fill="#3a3a3a" >FK866up</text>
<defs><linearGradient id="cb" x1="0" y1="0" x2="0" y2="1"><stop offset="0" stop-color="#ff0000"/><stop offset="0.507" stop-color="#ffffff"/><stop offset="1" stop-color="#0000ff"/></linearGradient></defs>
<rect x="246.10" y="46.80" width="4.90" height="68.30" fill="url(#cb)" />
<text x="253.00" y="55.00" font-size="4.6" text-anchor="start" fill="#333" >0.6</text>
<text x="253.00" y="64.00" font-size="4.6" text-anchor="start" fill="#333" >0.4</text>
<text x="253.00" y="73.60" font-size="4.6" text-anchor="start" fill="#333" >0.2</text>
<text x="253.00" y="83.10" font-size="4.6" text-anchor="start" fill="#333" >0</text>
<text x="253.00" y="93.10" font-size="4.6" text-anchor="start" fill="#333" >-0.2</text>
<text x="253.00" y="102.60" font-size="4.6" text-anchor="start" fill="#333" >-0.4</text>
<text x="253.00" y="112.30" font-size="4.6" text-anchor="start" fill="#333" >-0.6</text>
<text x="262.00" y="51.20" font-size="4.3" text-anchor="start" fill="#333" >tFP</text>
<rect x="262.00" y="52.80" width="7.00" height="7.30" fill="#e0909e" />
<text x="270.60" y="58.20" font-size="4.6" text-anchor="start" fill="#333" >1</text>
<rect x="262.00" y="60.10" width="7.00" height="7.30" fill="#a9a95f" />
<text x="270.60" y="65.50" font-size="4.6" text-anchor="start" fill="#333" >2</text>
<rect x="262.00" y="67.40" width="7.00" height="7.30" fill="#36b8a8" />
<text x="270.60" y="72.80" font-size="4.6" text-anchor="start" fill="#333" >3</text>
<rect x="262.00" y="74.70" width="7.00" height="7.30" fill="#a79ae0" />
<text x="270.60" y="80.10" font-size="4.6" text-anchor="start" fill="#333" >4</text>
<rect x="25.00" y="151.80" width="74.00" height="11.80" fill="#d9d9d9" stroke="#7a7a7a" stroke-width="0.6" />
<text x="62.00" y="159.80" font-size="5.1" font-weight="bold" text-anchor="middle" fill="#222" >FK866-Sensitive</text>
<rect x="101.70" y="151.80" width="96.90" height="12.00" fill="#7f7f7f" />
<text x="150.20" y="159.80" font-size="5.2" font-weight="bold" text-anchor="middle" fill="#e8e8e8" >FK866-Resistant</text>
<text x="303.30" y="9.70" font-size="12.5" font-weight="bold" text-anchor="start" fill="#000" >B</text>
<line x1="336.60" y1="38.20" x2="336.60" y2="135.40" stroke="#222" stroke-width="0.9" />
<line x1="336.10" y1="135.40" x2="376.40" y2="135.40" stroke="#222" stroke-width="0.9" />
<line x1="331.50" y1="135.10" x2="336.60" y2="135.10" stroke="#222" stroke-width="0.8" />
<text x="331.00" y="136.80" font-size="4.8" font-weight="bold" text-anchor="end" fill="#000" >0</text>
<line x1="333.60" y1="118.97" x2="336.60" y2="118.97" stroke="#222" stroke-width="0.8" />
<line x1="331.50" y1="102.83" x2="336.60" y2="102.83" stroke="#222" stroke-width="0.8" />
<text x="331.00" y="104.53" font-size="4.8" font-weight="bold" text-anchor="end" fill="#000" >100</text>
<line x1="333.60" y1="86.69" x2="336.60" y2="86.69" stroke="#222" stroke-width="0.8" />
<line x1="331.50" y1="70.56" x2="336.60" y2="70.56" stroke="#222" stroke-width="0.8" />
<text x="331.00" y="72.26" font-size="4.8" font-weight="bold" text-anchor="end" fill="#000" >200</text>
<line x1="333.60" y1="54.42" x2="336.60" y2="54.42" stroke="#222" stroke-width="0.8" />
<line x1="331.50" y1="38.29" x2="336.60" y2="38.29" stroke="#222" stroke-width="0.8" />
<text x="331.00" y="39.99" font-size="4.8" font-weight="bold" text-anchor="end" fill="#000" >300</text>
<rect x="346.20" y="40.10" width="20.50" height="38.40" fill="#0000c0" stroke="#222" stroke-width="0.8" />
<rect x="346.20" y="78.50" width="20.50" height="56.90" fill="#ff0000" stroke="#222" stroke-width="0.8" />
<rect x="375.80" y="38.70" width="6.80" height="6.30" fill="#ff0000" stroke="#222" stroke-width="0.5" />
<rect x="375.80" y="48.00" width="6.80" height="6.40" fill="#0000c0" stroke="#222" stroke-width="0.5" />
<text x="385.20" y="44.50" font-size="7.0" font-weight="bold" text-anchor="start" fill="#000" >High CD56</text>
<text x="385.20" y="54.00" font-size="7.0" font-weight="bold" text-anchor="start" fill="#000" >Low CD56</text>
<text x="0.00" y="0.00" font-size="7.0" font-weight="bold" text-anchor="middle" fill="#000" transform="translate(315.6,87.5) rotate(-90)">no. of patients</text>
<text x="356.50" y="146.70" font-size="6.85" font-weight="bold" text-anchor="middle" fill="#000" >FK sensitive</text>
<text x="450.40" y="10.20" font-size="12.5" font-weight="bold" text-anchor="start" fill="#000" >C</text>
<text x="475.80" y="20.90" font-size="4.6" text-anchor="start" fill="#111" >CoMMPass FK sensitive patients</text>
<text x="572.50" y="30.10" font-size="4.1" text-anchor="end" fill="#000" >CD56 level</text>
<rect x="574.20" y="26.10" width="5.70" height="4.90" fill="rgba(248,118,109,0.35)" />
<line x1="574.60" y1="28.55" x2="579.50" y2="28.55" stroke="#F8766D" stroke-width="0.8" />
<text x="581.90" y="30.10" font-size="4.1" text-anchor="start" fill="#000" >High</text>
<rect x="592.10" y="26.10" width="5.60" height="4.90" fill="rgba(0,191,196,0.35)" />
<line x1="592.50" y1="28.55" x2="597.30" y2="28.55" stroke="#00BFC4" stroke-width="0.8" />
<text x="599.50" y="30.10" font-size="4.1" text-anchor="start" fill="#000" >Low</text>
<line x1="516.80" y1="36.90" x2="516.80" y2="145.20" stroke="#f4f4f4" stroke-width="0.5" />
<line x1="580.00" y1="36.90" x2="580.00" y2="145.20" stroke="#f4f4f4" stroke-width="0.5" />
<line x1="643.20" y1="36.90" x2="643.20" y2="145.20" stroke="#f4f4f4" stroke-width="0.5" />
<line x1="476.40" y1="128.53" x2="681.00" y2="128.53" stroke="#f4f4f4" stroke-width="0.5" />
<line x1="476.40" y1="103.78" x2="681.00" y2="103.78" stroke="#f4f4f4" stroke-width="0.5" />
<line x1="476.40" y1="79.03" x2="681.00" y2="79.03" stroke="#f4f4f4" stroke-width="0.5" />
<line x1="476.40" y1="54.28" x2="681.00" y2="54.28" stroke="#f4f4f4" stroke-width="0.5" />
<line x1="485.20" y1="36.90" x2="485.20" y2="145.20" stroke="#ebebeb" stroke-width="0.7" />
<line x1="548.40" y1="36.90" x2="548.40" y2="145.20" stroke="#ebebeb" stroke-width="0.7" />
<line x1="611.60" y1="36.90" x2="611.60" y2="145.20" stroke="#ebebeb" stroke-width="0.7" />
<line x1="674.80" y1="36.90" x2="674.80" y2="145.20" stroke="#ebebeb" stroke-width="0.7" />
<line x1="476.40" y1="140.90" x2="681.00" y2="140.90" stroke="#ebebeb" stroke-width="0.7" />
<line x1="476.40" y1="116.15" x2="681.00" y2="116.15" stroke="#ebebeb" stroke-width="0.7" />
<line x1="476.40" y1="91.40" x2="681.00" y2="91.40" stroke="#ebebeb" stroke-width="0.7" />
<line x1="476.40" y1="66.65" x2="681.00" y2="66.65" stroke="#ebebeb" stroke-width="0.7" />
<line x1="476.40" y1="41.90" x2="681.00" y2="41.90" stroke="#ebebeb" stroke-width="0.7" />
<polygon points="485.40,41.00 487.53,41.00 487.53,41.47 489.67,41.47 489.67,41.93 491.80,41.93 491.80,42.40 493.77,42.40 493.77,43.20 495.73,43.20 495.73,44.00 497.70,44.00 497.70,44.80 500.00,44.80 500.00,45.30 502.53,45.30 502.53,46.23 505.07,46.23 505.07,47.17 507.60,47.17 507.60,48.10 510.17,48.10 510.17,49.60 512.73,49.60 512.73,51.10 515.30,51.10 515.30,52.60 517.83,52.60 517.83,54.13 520.37,54.13 520.37,55.67 522.90,55.67 522.90,57.20 525.20,57.20 525.20,58.63 527.50,58.63 527.50,60.07 529.80,60.07 529.80,61.50 530.50,61.50 530.50,69.20 532.88,69.20 532.88,70.03 535.25,70.03 535.25,70.85 537.62,70.85 537.62,71.67 540.00,71.67 540.00,72.50 542.10,72.50 542.10,73.35 544.20,73.35 544.20,74.20 546.30,74.20 546.30,75.05 548.40,75.05 548.40,75.90 550.50,75.90 550.50,76.93 552.60,76.93 552.60,77.95 554.70,77.95 554.70,78.97 556.80,78.97 556.80,80.00 558.88,80.00 558.88,80.65 560.95,80.65 560.95,81.30 563.02,81.30 563.02,81.95 565.10,81.95 565.10,82.60 566.80,82.60 566.80,86.80 570.00,86.80 570.00,89.10 572.05,89.10 572.05,90.15 574.10,90.15 574.10,91.20 576.85,91.20 576.85,92.90 579.60,92.90 579.60,94.60 582.00,94.60 582.00,95.10 584.40,95.10 584.40,95.60 586.80,95.60 586.80,96.10 589.20,96.10 589.20,96.60 591.60,96.60 591.60,96.95 594.00,96.95 594.00,97.30 596.40,97.30 596.40,97.65 598.80,97.65 598.80,98.00 600.80,98.00 600.80,98.03 602.80,98.03 602.80,98.07 604.80,98.07 604.80,98.10 610.90,98.10 610.90,100.30 620.60,100.30 620.60,103.20 629.00,103.20 629.00,104.20 637.00,104.20 637.00,107.90 654.80,107.90 654.80,128.60 637.00,128.60 637.00,121.00 629.00,121.00 629.00,117.60 611.00,117.60 611.00,116.40 611.00,116.10 608.67,116.10 608.67,115.80 606.33,115.80 606.33,115.50 604.00,115.50 604.00,114.93 601.80,114.93 601.80,114.37 599.60,114.37 599.60,113.80 597.40,113.80 597.40,113.12 595.12,113.12 595.12,112.43 592.83,112.43 592.83,111.75 590.55,111.75 590.55,111.07 588.27,111.07 588.27,110.38 585.98,110.38 585.98,109.70 583.70,109.70 583.70,109.28 581.53,109.28 581.53,108.85 579.35,108.85 579.35,108.42 577.17,108.42 577.17,108.00 575.00,108.00 575.00,107.83 572.83,107.83 572.83,107.67 570.67,107.67 570.67,107.50 568.50,107.50 568.50,107.10 566.00,107.10 566.00,106.70 563.50,106.70 563.50,104.60 560.95,104.60 560.95,102.50 558.40,102.50 558.40,99.20 556.80,99.20 542.50,99.20 542.50,94.10 540.00,94.10 540.00,92.70 537.10,92.70 537.10,91.30 535.10,91.30 535.10,88.25 532.80,88.25 532.80,85.20 530.50,85.20 530.50,83.17 528.47,83.17 528.47,81.13 526.43,81.13 526.43,79.10 524.40,79.10 524.40,76.57 522.37,76.57 522.37,74.03 520.33,74.03 520.33,71.50 518.30,71.50 518.30,69.97 516.27,69.97 516.27,68.43 514.23,68.43 514.23,66.90 512.20,66.90 512.20,65.37 510.17,65.37 510.17,63.83 508.13,63.83 508.13,62.30 506.10,62.30 506.10,60.03 504.07,60.03 504.07,57.77 502.03,57.77 502.03,55.50 500.00,55.50 500.00,55.05 498.35,55.05 498.35,54.60 496.70,54.60 496.70,51.60 494.70,51.60 494.70,50.70 492.80,50.70 492.80,46.80 490.80,46.80 490.80,44.80 488.90,44.80 488.90,43.25 487.15,43.25 487.15,41.70 485.40,41.70" fill="rgba(248,118,109,0.37)" stroke="none" stroke-width="0.7" />
<polygon points="485.40,42.50 487.65,42.50 487.65,43.35 489.90,43.35 489.90,44.20 491.85,44.20 491.85,45.75 493.80,45.75 493.80,47.30 495.75,47.30 495.75,48.55 497.70,48.55 497.70,49.80 500.00,49.80 500.00,52.10 502.53,52.10 502.53,53.47 505.07,53.47 505.07,54.83 507.60,54.83 507.60,56.20 510.17,56.20 510.17,57.53 512.73,57.53 512.73,58.87 515.30,58.87 515.30,60.20 517.83,60.20 517.83,62.07 520.37,62.07 520.37,63.93 522.90,63.93 522.90,65.80 525.20,65.80 525.20,68.00 527.50,68.00 527.50,70.20 530.50,70.20 530.50,72.70 532.00,72.70 532.00,78.10 534.00,78.10 534.00,79.22 536.00,79.22 536.00,80.35 538.00,80.35 538.00,81.47 540.00,81.47 540.00,82.60 542.50,82.60 542.50,83.50 545.00,83.50 545.00,84.40 547.50,84.40 547.50,86.10 550.00,86.10 550.00,87.80 552.55,87.80 552.55,89.05 555.10,89.05 555.10,90.30 557.20,90.30 557.20,91.35 559.30,91.35 559.30,92.40 561.40,92.40 561.40,93.85 563.50,93.85 563.50,95.30 565.80,95.30 565.80,96.34 568.10,96.34 568.10,97.38 570.40,97.38 570.40,98.42 572.70,98.42 572.70,99.46 575.00,99.46 575.00,100.50 577.00,100.50 577.00,101.00 579.00,101.00 579.00,101.50 581.00,101.50 581.00,102.00 583.00,102.00 583.00,102.50 585.00,102.50 585.00,103.00 587.07,103.00 587.07,103.20 589.13,103.20 589.13,103.40 591.20,103.40 591.20,103.60 593.27,103.60 593.27,103.80 595.33,103.80 595.33,104.00 597.40,104.00 597.40,104.20 599.93,104.20 599.93,104.33 602.47,104.33 602.47,104.47 605.00,104.47 605.00,104.60 607.00,104.60 607.00,104.87 609.00,104.87 609.00,105.13 611.00,105.13 611.00,105.40 611.00,107.90 661.50,107.90 661.50,128.60 611.00,128.60 611.00,126.10 611.00,125.90 609.00,125.90 609.00,125.70 607.00,125.70 607.00,125.50 605.00,125.50 605.00,125.23 602.47,125.23 602.47,124.97 599.93,124.97 599.93,124.70 597.40,124.70 597.40,123.78 595.12,123.78 595.12,122.87 592.83,122.87 592.83,121.95 590.55,121.95 590.55,121.03 588.27,121.03 588.27,120.12 585.98,120.12 585.98,119.20 583.70,119.20 583.70,118.83 581.53,118.83 581.53,118.45 579.35,118.45 579.35,118.08 577.17,118.08 577.17,117.70 575.00,117.70 575.00,117.50 572.52,117.50 572.52,117.30 570.05,117.30 570.05,117.10 567.58,117.10 567.58,116.90 565.10,116.90 565.10,115.25 562.60,115.25 562.60,113.60 560.10,113.60 560.10,112.47 557.87,112.47 557.87,111.33 555.63,111.33 555.63,110.20 553.40,110.20 553.40,110.04 551.40,110.04 551.40,109.88 549.40,109.88 549.40,109.72 547.40,109.72 547.40,109.56 545.40,109.56 545.40,109.40 543.40,109.40 543.40,107.30 541.70,107.30 541.70,105.20 540.00,105.20 540.00,101.60 537.50,101.60 537.50,98.00 535.00,98.00 535.00,94.50 532.50,94.50 532.50,91.00 530.00,91.00 530.00,88.33 527.77,88.33 527.77,85.67 525.53,85.67 525.53,83.00 523.30,83.00 523.30,81.75 521.55,81.75 521.55,80.50 519.80,80.50 519.80,79.00 517.93,79.00 517.93,77.50 516.07,77.50 516.07,76.00 514.20,76.00 514.20,74.30 512.05,74.30 512.05,72.60 509.90,72.60 509.90,70.55 507.45,70.55 507.45,68.50 505.00,68.50 505.00,67.25 502.50,67.25 502.50,66.00 500.00,66.00 500.00,62.00 497.50,62.00 497.50,58.00 495.00,58.00 495.00,54.00 492.50,54.00 492.50,50.00 490.00,50.00 490.00,45.85 487.70,45.85 487.70,41.70 485.40,41.70" fill="rgba(0,191,196,0.4)" stroke="none" stroke-width="0.7" />
<line x1="485.20" y1="91.40" x2="559.70" y2="91.40" stroke="#333" stroke-width="0.5" stroke-dasharray="0.9,0.9"/>
<line x1="534.30" y1="91.40" x2="534.30" y2="140.90" stroke="#333" stroke-width="0.5" stroke-dasharray="0.9,0.9"/>
<line x1="559.70" y1="91.40" x2="559.70" y2="140.90" stroke="#333" stroke-width="0.5" stroke-dasharray="0.9,0.9"/>
<polyline points="485.40,41.50 486.90,41.50 486.90,42.07 488.40,42.07 488.40,42.63 489.90,42.63 489.90,43.20 491.85,43.20 491.85,44.75 493.80,44.75 493.80,46.30 495.75,46.30 495.75,47.55 497.70,47.55 497.70,48.80 500.00,48.80 500.00,51.10 501.52,51.10 501.52,51.92 503.04,51.92 503.04,52.74 504.56,52.74 504.56,53.56 506.08,53.56 506.08,54.38 507.60,54.38 507.60,55.20 509.14,55.20 509.14,56.00 510.68,56.00 510.68,56.80 512.22,56.80 512.22,57.60 513.76,57.60 513.76,58.40 515.30,58.40 515.30,59.20 516.82,59.20 516.82,60.32 518.34,60.32 518.34,61.44 519.86,61.44 519.86,62.56 521.38,62.56 521.38,63.68 522.90,63.68 522.90,64.80 524.43,64.80 524.43,66.27 525.97,66.27 525.97,67.73 527.50,67.73 527.50,69.20 529.00,69.20 529.00,70.45 530.50,70.45 530.50,71.70 532.00,71.70 532.00,77.10 533.60,77.10 533.60,78.00 535.20,78.00 535.20,78.90 536.80,78.90 536.80,79.80 538.40,79.80 538.40,80.70 540.00,80.70 540.00,81.60 541.67,81.60 541.67,82.20 543.33,82.20 543.33,82.80 545.00,82.80 545.00,83.40 546.67,83.40 546.67,84.53 548.33,84.53 548.33,85.67 550.00,85.67 550.00,86.80 551.70,86.80 551.70,87.63 553.40,87.63 553.40,88.47 555.10,88.47 555.10,89.30 556.50,89.30 556.50,90.00 557.90,90.00 557.90,90.70 559.30,90.70 559.30,91.40 560.70,91.40 560.70,92.37 562.10,92.37 562.10,93.33 563.50,93.33 563.50,94.30 564.87,94.30 564.87,95.40 566.23,95.40 566.23,96.50 567.60,96.50 567.60,97.60 568.90,97.60 568.90,98.05 570.20,98.05 570.20,98.50 572.15,98.50 572.15,99.30 574.10,99.30 574.10,100.10 575.47,100.10 575.47,101.00 576.83,101.00 576.83,101.90 578.20,101.90 578.20,102.80 579.60,102.80 579.60,103.85 581.00,103.85 581.00,104.90 582.37,104.90 582.37,105.33 583.73,105.33 583.73,105.77 585.10,105.77 585.10,106.20 586.70,106.20 586.70,106.27 588.30,106.27 588.30,106.33 589.90,106.33 589.90,106.40 591.50,106.40 591.50,106.47 593.10,106.47 593.10,106.53 594.70,106.53 594.70,106.60 596.07,106.60 596.07,106.80 597.43,106.80 597.43,107.00 598.80,107.00 598.80,107.20 600.53,107.20 600.53,107.30 602.27,107.30 602.27,107.40 604.00,107.40 604.00,107.50 605.00,107.50 605.00,107.90 606.67,107.90 606.67,108.03 608.33,108.03 608.33,108.17 610.00,108.17 610.00,108.30 611.00,108.30 611.00,110.00 613.00,110.00 613.00,110.45 615.00,110.45 615.00,110.90 620.60,110.90 620.60,113.70 628.00,113.70 628.00,115.20 634.00,115.20 634.00,116.40 636.50,116.40 636.50,121.30 654.80,121.30" fill="none" stroke="#F8766D" stroke-width="0.85" />
<polyline points="485.40,41.50 487.15,41.50 487.15,43.65 488.90,43.65 488.90,45.80 490.80,45.80 490.80,47.80 492.80,47.80 492.80,51.70 494.70,51.70 494.70,52.60 496.70,52.60 496.70,55.60 498.35,55.60 498.35,56.05 500.00,56.05 500.00,56.50 501.52,56.50 501.52,58.20 503.05,58.20 503.05,59.90 504.58,59.90 504.58,61.60 506.10,61.60 506.10,63.30 507.62,63.30 507.62,64.45 509.15,64.45 509.15,65.60 510.68,65.60 510.68,66.75 512.20,66.75 512.20,67.90 513.73,67.90 513.73,69.05 515.25,69.05 515.25,70.20 516.77,70.20 516.77,71.35 518.30,71.35 518.30,72.50 519.82,72.50 519.82,74.40 521.35,74.40 521.35,76.30 522.88,76.30 522.88,78.20 524.40,78.20 524.40,80.10 525.92,80.10 525.92,81.62 527.45,81.62 527.45,83.15 528.98,83.15 528.98,84.67 530.50,84.67 530.50,86.20 532.03,86.20 532.03,88.23 533.57,88.23 533.57,90.27 535.10,90.27 535.10,92.30 537.10,92.30 537.10,93.70 538.55,93.70 538.55,94.40 540.00,94.40 540.00,95.10 541.25,95.10 541.25,97.65 542.50,97.65 542.50,100.20 556.80,100.20 558.40,100.20 558.40,103.50 560.10,103.50 560.10,104.90 561.80,104.90 561.80,106.30 563.50,106.30 563.50,107.70 565.17,107.70 565.17,107.97 566.83,107.97 566.83,108.23 568.50,108.23 568.50,108.50 570.25,108.50 570.25,108.80 572.00,108.80 572.00,109.10 573.75,109.10 573.75,109.40 575.50,109.40 575.50,109.70 576.87,109.70 576.87,110.37 578.23,110.37 578.23,111.03 579.60,111.03 579.60,111.70 581.43,111.70 581.43,112.40 583.27,112.40 583.27,113.10 585.10,113.10 585.10,113.80 586.80,113.80 586.80,114.40 588.50,114.40 588.50,115.00 590.20,115.00 590.20,115.60 591.90,115.60 591.90,116.20 593.47,116.20 593.47,116.24 595.04,116.24 595.04,116.29 596.61,116.29 596.61,116.33 598.19,116.33 598.19,116.37 599.76,116.37 599.76,116.41 601.33,116.41 601.33,116.46 602.90,116.46 602.90,116.50 604.20,116.50 604.20,117.90 605.65,117.90 605.65,117.98 607.10,117.98 607.10,118.05 608.55,118.05 608.55,118.12 610.00,118.12 610.00,118.20 611.00,118.20 611.00,121.30 661.50,121.30" fill="none" stroke="#00BFC4" stroke-width="0.85" />
<line x1="500.00" y1="49.10" x2="500.00" y2="51.30" stroke="#F8766D" stroke-width="0.5" />
<line x1="499.10" y1="50.20" x2="500.90" y2="50.20" stroke="#F8766D" stroke-width="0.5" />
<line x1="511.00" y1="55.40" x2="511.00" y2="57.60" stroke="#F8766D" stroke-width="0.5" />
<line x1="510.10" y1="56.50" x2="511.90" y2="56.50" stroke="#F8766D" stroke-width="0.5" />
<line x1="520.00" y1="61.90" x2="520.00" y2="64.10" stroke="#F8766D" stroke-width="0.5" />
<line x1="519.10" y1="63.00" x2="520.90" y2="63.00" stroke="#F8766D" stroke-width="0.5" />
<line x1="540.00" y1="80.90" x2="540.00" y2="83.10" stroke="#F8766D" stroke-width="0.5" />
<line x1="539.10" y1="82.00" x2="540.90" y2="82.00" stroke="#F8766D" stroke-width="0.5" />
<line x1="554.00" y1="87.70" x2="554.00" y2="89.90" stroke="#F8766D" stroke-width="0.5" />
<line x1="553.10" y1="88.80" x2="554.90" y2="88.80" stroke="#F8766D" stroke-width="0.5" />
<line x1="577.00" y1="100.90" x2="577.00" y2="103.10" stroke="#F8766D" stroke-width="0.5" />
<line x1="576.10" y1="102.00" x2="577.90" y2="102.00" stroke="#F8766D" stroke-width="0.5" />
<line x1="583.00" y1="103.80" x2="583.00" y2="106.00" stroke="#F8766D" stroke-width="0.5" />
<line x1="582.10" y1="104.90" x2="583.90" y2="104.90" stroke="#F8766D" stroke-width="0.5" />
<line x1="597.00" y1="105.30" x2="597.00" y2="107.50" stroke="#F8766D" stroke-width="0.5" />
<line x1="596.10" y1="106.40" x2="597.90" y2="106.40" stroke="#F8766D" stroke-width="0.5" />
<line x1="601.00" y1="105.30" x2="601.00" y2="107.50" stroke="#F8766D" stroke-width="0.5" />
<line x1="600.10" y1="106.40" x2="601.90" y2="106.40" stroke="#F8766D" stroke-width="0.5" />
<line x1="608.00" y1="106.80" x2="608.00" y2="109.00" stroke="#F8766D" stroke-width="0.5" />
<line x1="607.10" y1="107.90" x2="608.90" y2="107.90" stroke="#F8766D" stroke-width="0.5" />
<line x1="617.00" y1="109.80" x2="617.00" y2="112.00" stroke="#F8766D" stroke-width="0.5" />
<line x1="616.10" y1="110.90" x2="617.90" y2="110.90" stroke="#F8766D" stroke-width="0.5" />
<line x1="622.00" y1="112.60" x2="622.00" y2="114.80" stroke="#F8766D" stroke-width="0.5" />
<line x1="621.10" y1="113.70" x2="622.90" y2="113.70" stroke="#F8766D" stroke-width="0.5" />
<line x1="625.00" y1="112.60" x2="625.00" y2="114.80" stroke="#F8766D" stroke-width="0.5" />
<line x1="624.10" y1="113.70" x2="625.90" y2="113.70" stroke="#F8766D" stroke-width="0.5" />
<line x1="632.00" y1="114.10" x2="632.00" y2="116.30" stroke="#F8766D" stroke-width="0.5" />
<line x1="631.10" y1="115.20" x2="632.90" y2="115.20" stroke="#F8766D" stroke-width="0.5" />
<line x1="645.00" y1="120.20" x2="645.00" y2="122.40" stroke="#F8766D" stroke-width="0.5" />
<line x1="644.10" y1="121.30" x2="645.90" y2="121.30" stroke="#F8766D" stroke-width="0.5" />
<line x1="647.00" y1="120.20" x2="647.00" y2="122.40" stroke="#F8766D" stroke-width="0.5" />
<line x1="646.10" y1="121.30" x2="647.90" y2="121.30" stroke="#F8766D" stroke-width="0.5" />
<line x1="651.00" y1="120.20" x2="651.00" y2="122.40" stroke="#F8766D" stroke-width="0.5" />
<line x1="650.10" y1="121.30" x2="651.90" y2="121.30" stroke="#F8766D" stroke-width="0.5" />
<line x1="490.00" y1="45.40" x2="490.00" y2="47.60" stroke="#00BFC4" stroke-width="0.5" />
<line x1="489.10" y1="46.50" x2="490.90" y2="46.50" stroke="#00BFC4" stroke-width="0.5" />
<line x1="494.00" y1="50.40" x2="494.00" y2="52.60" stroke="#00BFC4" stroke-width="0.5" />
<line x1="493.10" y1="51.50" x2="494.90" y2="51.50" stroke="#00BFC4" stroke-width="0.5" />
<line x1="499.00" y1="54.40" x2="499.00" y2="56.60" stroke="#00BFC4" stroke-width="0.5" />
<line x1="498.10" y1="55.50" x2="499.90" y2="55.50" stroke="#00BFC4" stroke-width="0.5" />
<line x1="505.00" y1="59.90" x2="505.00" y2="62.10" stroke="#00BFC4" stroke-width="0.5" />
<line x1="504.10" y1="61.00" x2="505.90" y2="61.00" stroke="#00BFC4" stroke-width="0.5" />
<line x1="510.00" y1="63.40" x2="510.00" y2="65.60" stroke="#00BFC4" stroke-width="0.5" />
<line x1="509.10" y1="64.50" x2="510.90" y2="64.50" stroke="#00BFC4" stroke-width="0.5" />
<line x1="514.00" y1="66.90" x2="514.00" y2="69.10" stroke="#00BFC4" stroke-width="0.5" />
<line x1="513.10" y1="68.00" x2="514.90" y2="68.00" stroke="#00BFC4" stroke-width="0.5" />
<line x1="518.00" y1="69.90" x2="518.00" y2="72.10" stroke="#00BFC4" stroke-width="0.5" />
<line x1="517.10" y1="71.00" x2="518.90" y2="71.00" stroke="#00BFC4" stroke-width="0.5" />
<line x1="536.00" y1="92.40" x2="536.00" y2="94.60" stroke="#00BFC4" stroke-width="0.5" />
<line x1="535.10" y1="93.50" x2="536.90" y2="93.50" stroke="#00BFC4" stroke-width="0.5" />
<line x1="546.00" y1="99.60" x2="546.00" y2="101.80" stroke="#00BFC4" stroke-width="0.5" />
<line x1="545.10" y1="100.70" x2="546.90" y2="100.70" stroke="#00BFC4" stroke-width="0.5" />
<line x1="553.00" y1="99.60" x2="553.00" y2="101.80" stroke="#00BFC4" stroke-width="0.5" />
<line x1="552.10" y1="100.70" x2="553.90" y2="100.70" stroke="#00BFC4" stroke-width="0.5" />
<line x1="559.00" y1="103.40" x2="559.00" y2="105.60" stroke="#00BFC4" stroke-width="0.5" />
<line x1="558.10" y1="104.50" x2="559.90" y2="104.50" stroke="#00BFC4" stroke-width="0.5" />
<line x1="574.00" y1="108.40" x2="574.00" y2="110.60" stroke="#00BFC4" stroke-width="0.5" />
<line x1="573.10" y1="109.50" x2="574.90" y2="109.50" stroke="#00BFC4" stroke-width="0.5" />
<line x1="596.00" y1="114.90" x2="596.00" y2="117.10" stroke="#00BFC4" stroke-width="0.5" />
<line x1="595.10" y1="116.00" x2="596.90" y2="116.00" stroke="#00BFC4" stroke-width="0.5" />
<line x1="598.00" y1="114.90" x2="598.00" y2="117.10" stroke="#00BFC4" stroke-width="0.5" />
<line x1="597.10" y1="116.00" x2="598.90" y2="116.00" stroke="#00BFC4" stroke-width="0.5" />
<line x1="600.00" y1="114.90" x2="600.00" y2="117.10" stroke="#00BFC4" stroke-width="0.5" />
<line x1="599.10" y1="116.00" x2="600.90" y2="116.00" stroke="#00BFC4" stroke-width="0.5" />
<line x1="602.00" y1="114.90" x2="602.00" y2="117.10" stroke="#00BFC4" stroke-width="0.5" />
<line x1="601.10" y1="116.00" x2="602.90" y2="116.00" stroke="#00BFC4" stroke-width="0.5" />
<line x1="609.00" y1="117.10" x2="609.00" y2="119.30" stroke="#00BFC4" stroke-width="0.5" />
<line x1="608.10" y1="118.20" x2="609.90" y2="118.20" stroke="#00BFC4" stroke-width="0.5" />
<line x1="612.00" y1="120.20" x2="612.00" y2="122.40" stroke="#00BFC4" stroke-width="0.5" />
<line x1="611.10" y1="121.30" x2="612.90" y2="121.30" stroke="#00BFC4" stroke-width="0.5" />
<line x1="616.00" y1="120.20" x2="616.00" y2="122.40" stroke="#00BFC4" stroke-width="0.5" />
<line x1="615.10" y1="121.30" x2="616.90" y2="121.30" stroke="#00BFC4" stroke-width="0.5" />
<line x1="620.00" y1="120.20" x2="620.00" y2="122.40" stroke="#00BFC4" stroke-width="0.5" />
<line x1="619.10" y1="121.30" x2="620.90" y2="121.30" stroke="#00BFC4" stroke-width="0.5" />
<line x1="624.00" y1="120.20" x2="624.00" y2="122.40" stroke="#00BFC4" stroke-width="0.5" />
<line x1="623.10" y1="121.30" x2="624.90" y2="121.30" stroke="#00BFC4" stroke-width="0.5" />
<line x1="628.00" y1="120.20" x2="628.00" y2="122.40" stroke="#00BFC4" stroke-width="0.5" />
<line x1="627.10" y1="121.30" x2="628.90" y2="121.30" stroke="#00BFC4" stroke-width="0.5" />
<line x1="632.00" y1="120.20" x2="632.00" y2="122.40" stroke="#00BFC4" stroke-width="0.5" />
<line x1="631.10" y1="121.30" x2="632.90" y2="121.30" stroke="#00BFC4" stroke-width="0.5" />
<line x1="636.00" y1="120.20" x2="636.00" y2="122.40" stroke="#00BFC4" stroke-width="0.5" />
<line x1="635.10" y1="121.30" x2="636.90" y2="121.30" stroke="#00BFC4" stroke-width="0.5" />
<line x1="640.00" y1="120.20" x2="640.00" y2="122.40" stroke="#00BFC4" stroke-width="0.5" />
<line x1="639.10" y1="121.30" x2="640.90" y2="121.30" stroke="#00BFC4" stroke-width="0.5" />
<line x1="646.00" y1="120.20" x2="646.00" y2="122.40" stroke="#00BFC4" stroke-width="0.5" />
<line x1="645.10" y1="121.30" x2="646.90" y2="121.30" stroke="#00BFC4" stroke-width="0.5" />
<line x1="657.00" y1="120.20" x2="657.00" y2="122.40" stroke="#00BFC4" stroke-width="0.5" />
<line x1="656.10" y1="121.30" x2="657.90" y2="121.30" stroke="#00BFC4" stroke-width="0.5" />
<line x1="661.00" y1="120.20" x2="661.00" y2="122.40" stroke="#00BFC4" stroke-width="0.5" />
<line x1="660.10" y1="121.30" x2="661.90" y2="121.30" stroke="#00BFC4" stroke-width="0.5" />
<rect x="476.40" y="36.90" width="205.00" height="108.30" fill="none" stroke="#c4c4c4" stroke-width="1.0" />
<line x1="474.60" y1="41.90" x2="475.90" y2="41.90" stroke="#444" stroke-width="0.5" />
<text x="474.20" y="43.35" font-size="4.0" text-anchor="end" fill="#3d3d3d" >1.00</text>
<line x1="474.60" y1="66.65" x2="475.90" y2="66.65" stroke="#444" stroke-width="0.5" />
<text x="474.20" y="68.10" font-size="4.0" text-anchor="end" fill="#3d3d3d" >0.75</text>
<line x1="474.60" y1="91.40" x2="475.90" y2="91.40" stroke="#444" stroke-width="0.5" />
<text x="474.20" y="92.85" font-size="4.0" text-anchor="end" fill="#3d3d3d" >0.50</text>
<line x1="474.60" y1="116.15" x2="475.90" y2="116.15" stroke="#444" stroke-width="0.5" />
<text x="474.20" y="117.60" font-size="4.0" text-anchor="end" fill="#3d3d3d" >0.25</text>
<line x1="474.60" y1="140.90" x2="475.90" y2="140.90" stroke="#444" stroke-width="0.5" />
<text x="474.20" y="142.35" font-size="4.0" text-anchor="end" fill="#3d3d3d" >0.00</text>
<line x1="485.20" y1="145.70" x2="485.20" y2="146.90" stroke="#444" stroke-width="0.5" />
<text x="485.20" y="151.00" font-size="4.2" text-anchor="middle" fill="#3d3d3d" >0</text>
<line x1="548.40" y1="145.70" x2="548.40" y2="146.90" stroke="#444" stroke-width="0.5" />
<text x="548.40" y="151.00" font-size="4.2" text-anchor="middle" fill="#3d3d3d" >1000</text>
<line x1="611.60" y1="145.70" x2="611.60" y2="146.90" stroke="#444" stroke-width="0.5" />
<text x="611.60" y="151.00" font-size="4.2" text-anchor="middle" fill="#3d3d3d" >2000</text>
<line x1="674.80" y1="145.70" x2="674.80" y2="146.90" stroke="#444" stroke-width="0.5" />
<text x="674.80" y="151.00" font-size="4.2" text-anchor="middle" fill="#3d3d3d" >3000</text>
<text x="0.00" y="0.00" font-size="5.3" font-weight="bold" text-anchor="middle" fill="#000" transform="translate(462.2,91.5) rotate(-90)">Survival probability</text>
<text x="555.90" y="159.00" font-size="5.2" font-weight="bold" text-anchor="start" fill="#000" >Progression Free days</text>
<text x="552.30" y="170.30" font-size="4.47" font-weight="bold" text-anchor="start" fill="#000" >MMRF_CoMMpass_IA18_salmon_geneUnstranded_tpm.tsv</text>
<text x="489.00" y="113.00" font-size="4.97" text-anchor="start" fill="#000" >Peto-Peto</text>
<text x="489.00" y="123.60" font-size="4.84" text-anchor="start" fill="#000" >p = 0.024</text>
<rect x="580.00" y="45.90" width="19.20" height="4.80" fill="#c6c6c6" />
<rect x="580.00" y="51.30" width="19.20" height="5.90" fill="#efefef" />
<rect x="580.00" y="57.70" width="19.20" height="5.60" fill="#d6d6d6" />
<text x="589.60" y="50.00" font-size="4.3" font-weight="bold" text-anchor="middle" fill="#000" >records</text>
<text x="589.60" y="55.70" font-size="3.9" font-weight="bold" text-anchor="middle" fill="#222" >166</text>
<text x="589.60" y="61.90" font-size="3.9" font-weight="bold" text-anchor="middle" fill="#222" >112</text>
<rect x="599.80" y="45.90" width="19.40" height="4.80" fill="#c6c6c6" />
<rect x="599.80" y="51.30" width="19.40" height="5.90" fill="#efefef" />
<rect x="599.80" y="57.70" width="19.40" height="5.60" fill="#d6d6d6" />
<text x="609.50" y="50.00" font-size="4.3" font-weight="bold" text-anchor="middle" fill="#000" >events</text>
<text x="609.50" y="55.70" font-size="3.9" font-weight="bold" text-anchor="middle" fill="#222" >90</text>
<text x="609.50" y="61.90" font-size="3.9" font-weight="bold" text-anchor="middle" fill="#222" >65</text>
<rect x="619.80" y="45.90" width="19.10" height="4.80" fill="#c6c6c6" />
<rect x="619.80" y="51.30" width="19.10" height="5.90" fill="#efefef" />
<rect x="619.80" y="57.70" width="19.10" height="5.60" fill="#d6d6d6" />
<text x="629.35" y="50.00" font-size="4.3" font-weight="bold" text-anchor="middle" fill="#000" >median</text>
<text x="629.35" y="55.70" font-size="3.9" font-weight="bold" text-anchor="middle" fill="#222" >1176</text>
<text x="629.35" y="61.90" font-size="3.9" font-weight="bold" text-anchor="middle" fill="#222" >776</text>
<rect x="639.50" y="45.90" width="19.10" height="4.80" fill="#c6c6c6" />
<rect x="639.50" y="51.30" width="19.10" height="5.90" fill="#efefef" />
<rect x="639.50" y="57.70" width="19.10" height="5.60" fill="#d6d6d6" />
<text x="649.05" y="50.00" font-size="4.3" font-weight="bold" text-anchor="middle" fill="#000" >0.95LCL</text>
<text x="649.05" y="55.70" font-size="3.9" font-weight="bold" text-anchor="middle" fill="#222" >950</text>
<text x="649.05" y="61.90" font-size="3.9" font-weight="bold" text-anchor="middle" fill="#222" >638</text>
<rect x="659.20" y="45.90" width="20.00" height="4.80" fill="#c6c6c6" />
<rect x="659.20" y="51.30" width="20.00" height="5.90" fill="#efefef" />
<rect x="659.20" y="57.70" width="20.00" height="5.60" fill="#d6d6d6" />
<text x="669.20" y="50.00" font-size="4.3" font-weight="bold" text-anchor="middle" fill="#000" >0.95UCL</text>
<text x="669.20" y="55.70" font-size="3.9" font-weight="bold" text-anchor="middle" fill="#222" >1433</text>
<text x="669.20" y="61.90" font-size="3.9" font-weight="bold" text-anchor="middle" fill="#222" >1190</text>
<text x="578.00" y="55.90" font-size="3.66" text-anchor="end" fill="#222" >CD56 High</text>
<text x="578.00" y="62.10" font-size="3.66" text-anchor="end" fill="#222" >CD56 Low</text>
<text x="96.10" y="189.10" font-size="13" font-weight="bold" text-anchor="start" fill="#000" >D</text>
<line x1="117.70" y1="212.80" x2="117.70" y2="295.30" stroke="#222" stroke-width="0.9" />
<line x1="117.30" y1="295.10" x2="263.70" y2="295.10" stroke="#222" stroke-width="0.9" />
<line x1="113.50" y1="294.90" x2="117.70" y2="294.90" stroke="#222" stroke-width="0.8" />
<text x="112.80" y="296.70" font-size="5.2" font-weight="bold" text-anchor="end" fill="#000" >0</text>
<line x1="115.50" y1="288.06" x2="117.70" y2="288.06" stroke="#222" stroke-width="0.7" />
<line x1="113.50" y1="281.22" x2="117.70" y2="281.22" stroke="#222" stroke-width="0.8" />
<text x="112.80" y="283.02" font-size="5.2" font-weight="bold" text-anchor="end" fill="#000" >20</text>
<line x1="115.50" y1="274.38" x2="117.70" y2="274.38" stroke="#222" stroke-width="0.7" />
<line x1="113.50" y1="267.54" x2="117.70" y2="267.54" stroke="#222" stroke-width="0.8" />
<text x="112.80" y="269.34" font-size="5.2" font-weight="bold" text-anchor="end" fill="#000" >40</text>
<line x1="115.50" y1="260.70" x2="117.70" y2="260.70" stroke="#222" stroke-width="0.7" />
<line x1="113.50" y1="253.86" x2="117.70" y2="253.86" stroke="#222" stroke-width="0.8" />
<text x="112.80" y="255.66" font-size="5.2" font-weight="bold" text-anchor="end" fill="#000" >60</text>
<line x1="115.50" y1="247.02" x2="117.70" y2="247.02" stroke="#222" stroke-width="0.7" />
<line x1="113.50" y1="240.18" x2="117.70" y2="240.18" stroke="#222" stroke-width="0.8" />
<text x="112.80" y="241.98" font-size="5.2" font-weight="bold" text-anchor="end" fill="#000" >80</text>
<line x1="115.50" y1="233.34" x2="117.70" y2="233.34" stroke="#222" stroke-width="0.7" />
<line x1="113.50" y1="226.50" x2="117.70" y2="226.50" stroke="#222" stroke-width="0.8" />
<text x="112.80" y="228.30" font-size="5.2" font-weight="bold" text-anchor="end" fill="#000" >100</text>
<line x1="115.50" y1="219.66" x2="117.70" y2="219.66" stroke="#222" stroke-width="0.7" />
<line x1="113.50" y1="212.82" x2="117.70" y2="212.82" stroke="#222" stroke-width="0.8" />
<text x="112.80" y="214.62" font-size="5.2" font-weight="bold" text-anchor="end" fill="#000" >120</text>
<rect x="125.85" y="226.10" width="14.50" height="32.89" fill="#0000c0" stroke="#333" stroke-width="0.7" />
<rect x="125.85" y="258.99" width="14.50" height="35.91" fill="#ff0000" stroke="#333" stroke-width="0.7" />
<line x1="133.10" y1="295.10" x2="133.10" y2="299.00" stroke="#222" stroke-width="0.7" />
<rect x="142.45" y="226.10" width="14.50" height="28.03" fill="#0000c0" stroke="#333" stroke-width="0.7" />
<rect x="142.45" y="254.13" width="14.50" height="40.77" fill="#ff0000" stroke="#333" stroke-width="0.7" />
<line x1="149.70" y1="295.10" x2="149.70" y2="299.00" stroke="#222" stroke-width="0.7" />
<rect x="159.05" y="226.10" width="14.50" height="32.21" fill="#0000c0" stroke="#333" stroke-width="0.7" />
<rect x="159.05" y="258.31" width="14.50" height="36.59" fill="#ff0000" stroke="#333" stroke-width="0.7" />
<line x1="166.30" y1="295.10" x2="166.30" y2="299.00" stroke="#222" stroke-width="0.7" />
<rect x="175.65" y="226.10" width="14.50" height="9.02" fill="#0000c0" stroke="#333" stroke-width="0.7" />
<rect x="175.65" y="235.12" width="14.50" height="59.78" fill="#ff0000" stroke="#333" stroke-width="0.7" />
<line x1="182.90" y1="295.10" x2="182.90" y2="299.00" stroke="#222" stroke-width="0.7" />
<rect x="192.25" y="226.10" width="14.50" height="31.73" fill="#0000c0" stroke="#333" stroke-width="0.7" />
<rect x="192.25" y="257.83" width="14.50" height="37.07" fill="#ff0000" stroke="#333" stroke-width="0.7" />
<line x1="199.50" y1="295.10" x2="199.50" y2="299.00" stroke="#222" stroke-width="0.7" />
<rect x="225.25" y="226.10" width="14.50" height="37.34" fill="#0000c0" stroke="#333" stroke-width="0.7" />
<rect x="225.25" y="263.44" width="14.50" height="31.46" fill="#ff0000" stroke="#333" stroke-width="0.7" />
<line x1="232.50" y1="295.10" x2="232.50" y2="299.00" stroke="#222" stroke-width="0.7" />
<rect x="241.85" y="226.10" width="14.50" height="31.73" fill="#0000c0" stroke="#333" stroke-width="0.7" />
<rect x="241.85" y="257.83" width="14.50" height="37.07" fill="#ff0000" stroke="#333" stroke-width="0.7" />
<line x1="249.10" y1="295.10" x2="249.10" y2="299.00" stroke="#222" stroke-width="0.7" />
<text x="0.00" y="0.00" font-size="5.6" font-weight="bold" text-anchor="end" fill="#000" transform="translate(134.90,305.0) rotate(-45)">del17p</text>
<text x="0.00" y="0.00" font-size="5.6" font-weight="bold" text-anchor="end" fill="#000" transform="translate(151.50,305.0) rotate(-45)">1p del</text>
<text x="0.00" y="0.00" font-size="5.6" font-weight="bold" text-anchor="end" fill="#000" transform="translate(168.10,305.0) rotate(-45)">1q amp/gain</text>
<text x="0.00" y="0.00" font-size="5.6" font-weight="bold" text-anchor="end" fill="#000" transform="translate(184.70,305.0) rotate(-45)">t(4,14)</text>
<text x="0.00" y="0.00" font-size="5.6" font-weight="bold" text-anchor="end" fill="#000" transform="translate(201.30,305.0) rotate(-45)">TP53 mut</text>
<text x="0.00" y="0.00" font-size="5.6" font-weight="bold" text-anchor="end" fill="#000" transform="translate(234.30,305.0) rotate(-45)">SRCA</text>
<text x="0.00" y="0.00" font-size="5.6" font-weight="bold" text-anchor="end" fill="#000" transform="translate(250.90,305.0) rotate(-45)">HRCA</text>
<rect x="266.00" y="214.60" width="5.90" height="5.30" fill="#ff0000" stroke="#222" stroke-width="0.5" />
<rect x="266.00" y="223.50" width="5.90" height="5.40" fill="#0000c0" stroke="#222" stroke-width="0.5" />
<text x="274.20" y="219.90" font-size="7.3" font-weight="bold" text-anchor="start" fill="#000" >High</text>
<text x="274.20" y="228.90" font-size="7.3" font-weight="bold" text-anchor="start" fill="#000" >Low</text>
<text x="0.00" y="0.00" font-size="8.5" font-weight="bold" text-anchor="middle" fill="#000" transform="translate(99.8,254.7) rotate(-90)">%of patients</text>
<text x="315.20" y="189.10" font-size="13" font-weight="bold" text-anchor="start" fill="#000" >E</text>
<line x1="336.10" y1="212.40" x2="336.10" y2="308.60" stroke="#222" stroke-width="0.8" />
<line x1="335.80" y1="308.30" x2="433.20" y2="308.30" stroke="#222" stroke-width="0.8" />
<line x1="331.90" y1="308.30" x2="336.10" y2="308.30" stroke="#222" stroke-width="0.7" />
<text x="331.30" y="309.90" font-size="4.7" font-weight="bold" text-anchor="end" fill="#000" >0</text>
<line x1="331.90" y1="289.12" x2="336.10" y2="289.12" stroke="#222" stroke-width="0.7" />
<text x="331.30" y="290.72" font-size="4.7" font-weight="bold" text-anchor="end" fill="#000" >1</text>
<line x1="331.90" y1="269.94" x2="336.10" y2="269.94" stroke="#222" stroke-width="0.7" />
<text x="331.30" y="271.54" font-size="4.7" font-weight="bold" text-anchor="end" fill="#000" >2</text>
<line x1="331.90" y1="250.76" x2="336.10" y2="250.76" stroke="#222" stroke-width="0.7" />
<text x="331.30" y="252.36" font-size="4.7" font-weight="bold" text-anchor="end" fill="#000" >3</text>
<line x1="331.90" y1="231.58" x2="336.10" y2="231.58" stroke="#222" stroke-width="0.7" />
<text x="331.30" y="233.18" font-size="4.7" font-weight="bold" text-anchor="end" fill="#000" >4</text>
<line x1="331.90" y1="212.40" x2="336.10" y2="212.40" stroke="#222" stroke-width="0.7" />
<text x="331.30" y="214.00" font-size="4.7" font-weight="bold" text-anchor="end" fill="#000" >5</text>
<line x1="346.25" y1="283.17" x2="346.25" y2="274.16" stroke="#000" stroke-width="0.6" />
<line x1="344.05" y1="274.16" x2="348.45" y2="274.16" stroke="#000" stroke-width="0.6" />
<rect x="341.10" y="283.17" width="10.30" height="25.13" fill="#000" stroke="#000" stroke-width="0.6" />
<line x1="357.35" y1="249.80" x2="357.35" y2="235.42" stroke="#000" stroke-width="0.6" />
<line x1="355.15" y1="235.42" x2="359.55" y2="235.42" stroke="#000" stroke-width="0.6" />
<rect x="352.00" y="249.80" width="10.70" height="58.50" fill="#9b9b9b" stroke="#000" stroke-width="0.6" />
<line x1="378.80" y1="296.98" x2="378.80" y2="295.45" stroke="#000" stroke-width="0.6" />
<line x1="376.60" y1="295.45" x2="381.00" y2="295.45" stroke="#000" stroke-width="0.6" />
<rect x="373.80" y="296.98" width="10.00" height="11.32" fill="#000" stroke="#000" stroke-width="0.6" />
<line x1="389.80" y1="288.54" x2="389.80" y2="282.22" stroke="#000" stroke-width="0.6" />
<line x1="387.60" y1="282.22" x2="392.00" y2="282.22" stroke="#000" stroke-width="0.6" />
<rect x="384.90" y="288.54" width="9.80" height="19.76" fill="#9b9b9b" stroke="#000" stroke-width="0.6" />
<line x1="411.15" y1="289.50" x2="411.15" y2="288.74" stroke="#000" stroke-width="0.6" />
<line x1="408.95" y1="288.74" x2="413.35" y2="288.74" stroke="#000" stroke-width="0.6" />
<rect x="406.20" y="289.50" width="9.90" height="18.80" fill="#000" stroke="#000" stroke-width="0.6" />
<line x1="422.35" y1="255.36" x2="422.35" y2="240.59" stroke="#000" stroke-width="0.6" />
<line x1="420.15" y1="240.59" x2="424.55" y2="240.59" stroke="#000" stroke-width="0.6" />
<rect x="417.10" y="255.36" width="10.50" height="52.94" fill="#9b9b9b" stroke="#000" stroke-width="0.6" />
<line x1="351.70" y1="308.30" x2="351.70" y2="311.70" stroke="#222" stroke-width="0.7" />
<text x="351.70" y="318.00" font-size="5.4" font-weight="bold" text-anchor="middle" fill="#000" >CTR</text>
<line x1="384.60" y1="308.30" x2="384.60" y2="311.70" stroke="#222" stroke-width="0.7" />
<text x="384.60" y="318.00" font-size="5.4" font-weight="bold" text-anchor="middle" fill="#000" >Isa</text>
<line x1="417.00" y1="308.30" x2="417.00" y2="311.70" stroke="#222" stroke-width="0.7" />
<text x="417.00" y="318.00" font-size="5.4" font-weight="bold" text-anchor="middle" fill="#000" >Dara</text>
<line x1="471.10" y1="211.90" x2="471.10" y2="308.20" stroke="#222" stroke-width="0.8" />
<line x1="470.80" y1="307.90" x2="568.70" y2="307.90" stroke="#222" stroke-width="0.8" />
<line x1="466.90" y1="307.90" x2="471.10" y2="307.90" stroke="#222" stroke-width="0.7" />
<text x="466.30" y="309.50" font-size="4.7" font-weight="bold" text-anchor="end" fill="#000" >0</text>
<line x1="466.90" y1="288.70" x2="471.10" y2="288.70" stroke="#222" stroke-width="0.7" />
<text x="466.30" y="290.30" font-size="4.7" font-weight="bold" text-anchor="end" fill="#000" >2</text>
<line x1="466.90" y1="269.50" x2="471.10" y2="269.50" stroke="#222" stroke-width="0.7" />
<text x="466.30" y="271.10" font-size="4.7" font-weight="bold" text-anchor="end" fill="#000" >4</text>
<line x1="466.90" y1="250.30" x2="471.10" y2="250.30" stroke="#222" stroke-width="0.7" />
<text x="466.30" y="251.90" font-size="4.7" font-weight="bold" text-anchor="end" fill="#000" >6</text>
<line x1="466.90" y1="231.10" x2="471.10" y2="231.10" stroke="#222" stroke-width="0.7" />
<text x="466.30" y="232.70" font-size="4.7" font-weight="bold" text-anchor="end" fill="#000" >8</text>
<line x1="466.90" y1="211.90" x2="471.10" y2="211.90" stroke="#222" stroke-width="0.7" />
<text x="466.30" y="213.50" font-size="4.7" font-weight="bold" text-anchor="end" fill="#000" >10</text>
<line x1="481.30" y1="229.18" x2="481.30" y2="226.59" stroke="#000" stroke-width="0.6" />
<line x1="479.10" y1="226.59" x2="483.50" y2="226.59" stroke="#000" stroke-width="0.6" />
<rect x="476.50" y="229.18" width="9.60" height="78.72" fill="#000" stroke="#000" stroke-width="0.6" />
<line x1="493.05" y1="245.88" x2="493.05" y2="243.68" stroke="#000" stroke-width="0.6" />
<line x1="490.85" y1="243.68" x2="495.25" y2="243.68" stroke="#000" stroke-width="0.6" />
<rect x="488.40" y="245.88" width="9.30" height="62.02" fill="#9b9b9b" stroke="#000" stroke-width="0.6" />
<line x1="514.35" y1="225.63" x2="514.35" y2="222.65" stroke="#000" stroke-width="0.6" />
<line x1="512.15" y1="222.65" x2="516.55" y2="222.65" stroke="#000" stroke-width="0.6" />
<rect x="509.70" y="225.63" width="9.30" height="82.27" fill="#000" stroke="#000" stroke-width="0.6" />
<line x1="526.00" y1="239.74" x2="526.00" y2="237.53" stroke="#000" stroke-width="0.6" />
<line x1="523.80" y1="237.53" x2="528.20" y2="237.53" stroke="#000" stroke-width="0.6" />
<rect x="521.30" y="239.74" width="9.40" height="68.16" fill="#9b9b9b" stroke="#000" stroke-width="0.6" />
<line x1="547.00" y1="232.44" x2="547.00" y2="230.24" stroke="#000" stroke-width="0.6" />
<line x1="544.80" y1="230.24" x2="549.20" y2="230.24" stroke="#000" stroke-width="0.6" />
<rect x="542.20" y="232.44" width="9.60" height="75.46" fill="#000" stroke="#000" stroke-width="0.6" />
<line x1="558.85" y1="249.92" x2="558.85" y2="246.46" stroke="#000" stroke-width="0.6" />
<line x1="556.65" y1="246.46" x2="561.05" y2="246.46" stroke="#000" stroke-width="0.6" />
<rect x="553.90" y="249.92" width="9.90" height="57.98" fill="#9b9b9b" stroke="#000" stroke-width="0.6" />
<line x1="486.80" y1="307.90" x2="486.80" y2="311.30" stroke="#222" stroke-width="0.7" />
<text x="486.80" y="317.60" font-size="5.4" font-weight="bold" text-anchor="middle" fill="#000" >CTR</text>
<line x1="519.60" y1="307.90" x2="519.60" y2="311.30" stroke="#222" stroke-width="0.7" />
<text x="519.60" y="317.60" font-size="5.4" font-weight="bold" text-anchor="middle" fill="#000" >Isa</text>
<line x1="552.60" y1="307.90" x2="552.60" y2="311.30" stroke="#222" stroke-width="0.7" />
<text x="552.60" y="317.60" font-size="5.4" font-weight="bold" text-anchor="middle" fill="#000" >Dara</text>
<polyline points="357.30,229.30 357.30,209.50 390.10,209.50 390.10,276.30" fill="none" stroke="#000" stroke-width="0.6" />
<polyline points="357.30,229.30 357.30,215.20 422.40,215.20 422.40,237.50" fill="none" stroke="#000" stroke-width="0.6" />
<polyline points="346.20,269.90 346.20,220.10 411.20,220.10 411.20,282.70" fill="none" stroke="#000" stroke-width="0.6" />
<polyline points="346.20,269.90 346.20,224.40 378.70,224.40 378.70,290.80" fill="none" stroke="#000" stroke-width="0.6" />
<polyline points="346.20,269.90 346.20,228.30 357.30,228.30 357.30,229.30" fill="none" stroke="#000" stroke-width="0.6" />
<text x="387.40" y="215.30" font-size="5.5" font-weight="bold" text-anchor="middle" fill="#000" >*</text>
<text x="375.00" y="231.10" font-size="5.5" font-weight="bold" text-anchor="middle" fill="#000" >*</text>
<text x="352.70" y="235.10" font-size="5.5" font-weight="bold" text-anchor="middle" fill="#000" >*</text>
<text x="420.20" y="219.70" font-size="5.3" text-anchor="middle" fill="#000" >ns</text>
<text x="406.00" y="227.90" font-size="5.3" text-anchor="middle" fill="#000" >ns</text>
<polyline points="492.60,235.00 492.60,209.30 525.40,209.30 525.40,228.90" fill="none" stroke="#000" stroke-width="0.6" />
<polyline points="492.60,235.00 492.60,213.30 558.70,213.30 558.70,238.50" fill="none" stroke="#000" stroke-width="0.6" />
<polyline points="481.30,224.00 481.30,215.60 547.20,215.60 547.20,228.80" fill="none" stroke="#000" stroke-width="0.6" />
<polyline points="481.30,224.00 481.30,217.30 514.20,217.30 514.20,221.00" fill="none" stroke="#000" stroke-width="0.6" />
<polyline points="481.30,224.00 481.30,219.30 492.60,219.30 492.60,235.00" fill="none" stroke="#000" stroke-width="0.6" />
<polyline points="514.20,221.00 514.20,218.80 525.40,218.80 525.40,228.90" fill="none" stroke="#000" stroke-width="0.6" />
<polyline points="547.20,228.80 547.20,223.80 558.70,223.80 558.70,238.50" fill="none" stroke="#000" stroke-width="0.6" />
<text x="523.00" y="213.90" font-size="5.5" font-weight="bold" text-anchor="middle" fill="#000" >*</text>
<text x="487.00" y="226.20" font-size="7" font-weight="bold" text-anchor="middle" fill="#000" >***</text>
<text x="519.60" y="222.50" font-size="7" font-weight="bold" text-anchor="middle" fill="#000" >***</text>
<text x="553.70" y="228.70" font-size="5.6" font-weight="bold" text-anchor="middle" fill="#000" >****</text>
<text x="508.60" y="221.80" font-size="5.3" text-anchor="middle" fill="#000" >ns</text>
<text x="541.80" y="219.40" font-size="5.1" text-anchor="middle" fill="#000" >ns</text>
<text x="0.00" y="0.00" font-size="6.75" font-weight="bold" text-anchor="middle" fill="#000" transform="translate(311.9,255.45) rotate(-90)">CD38 cyclase activity</text>
<text x="0.00" y="0.00" font-size="6.75" font-weight="bold" text-anchor="middle" fill="#000" transform="translate(320.4,255.55) rotate(-90)">(cGDPR nmol/min/mg)</text>
<text x="0.00" y="0.00" font-size="6.8" font-weight="bold" text-anchor="middle" fill="#000" transform="translate(455.6,258.8) rotate(-90)">NAD nmol/mg</text>
<rect x="572.30" y="213.00" width="5.50" height="5.50" fill="#000" stroke="#000" stroke-width="0.5" />
<rect x="572.30" y="219.90" width="5.50" height="5.70" fill="#9b9b9b" stroke="#000" stroke-width="0.5" />
<text x="579.30" y="218.10" font-size="5.3" font-weight="bold" text-anchor="start" fill="#000" >pLV CTR</text>
<text x="579.30" y="225.00" font-size="5.2" font-weight="bold" text-anchor="start" fill="#000" >pLV CD56OE</text>
</svg></body></html>
